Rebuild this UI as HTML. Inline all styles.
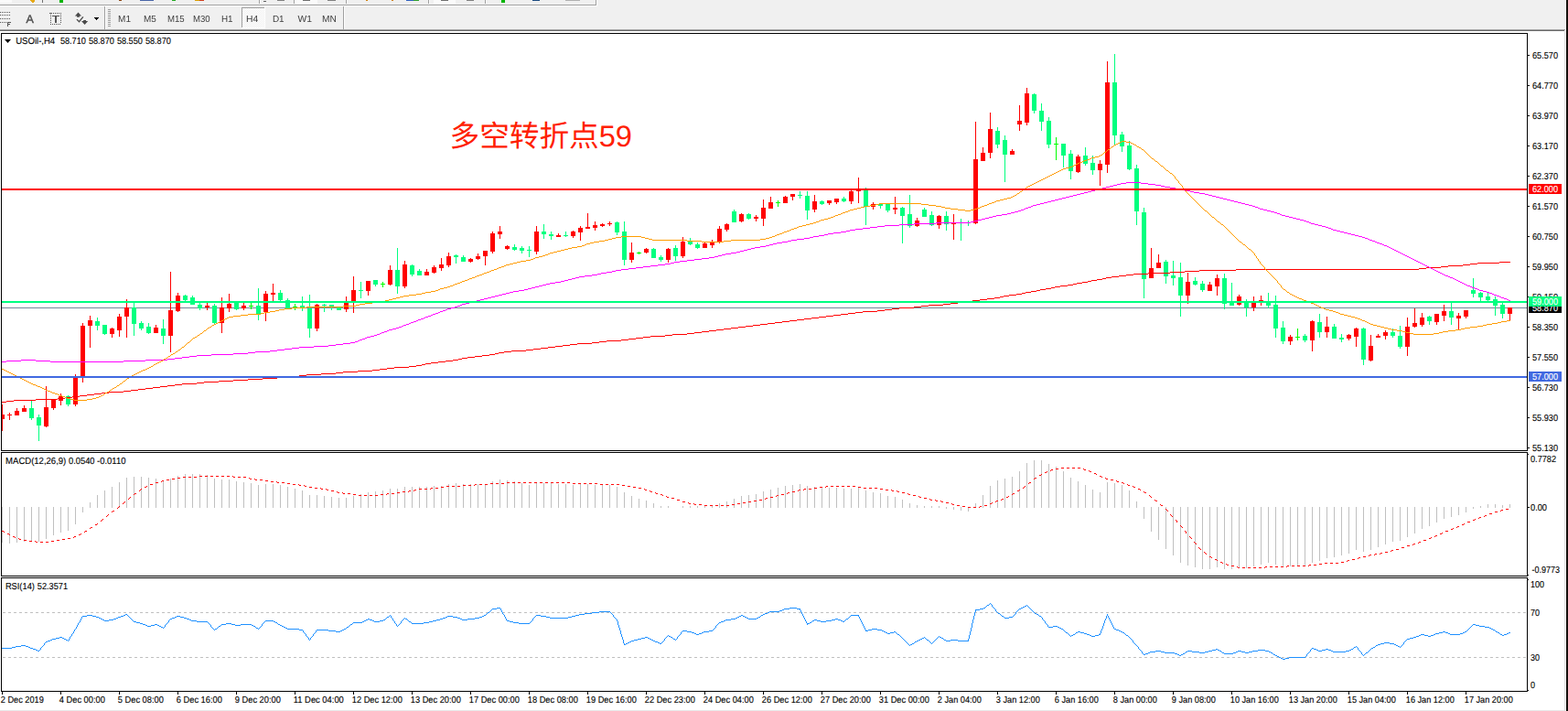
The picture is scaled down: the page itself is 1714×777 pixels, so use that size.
<!DOCTYPE html>
<html><head><meta charset="utf-8"><title>USOil H4</title>
<style>
html,body{margin:0;padding:0;background:#fff;overflow:hidden}
body{width:1714px;height:777px;position:relative}
svg{position:absolute;left:0;top:0;display:block}
text{font-family:"Liberation Sans",sans-serif;font-size:10.1px;fill:#000;text-rendering:geometricPrecision;stroke:#000;stroke-width:0.12px}
text.tb{font-size:10.1px;fill:#404040;stroke:none}
</style></head><body>
<svg width="1714" height="777" viewBox="0 0 1714 777">
<g shape-rendering="crispEdges">
<rect x="0" y="0" width="1712" height="34" fill="#f0f0f0"/>
<rect x="0" y="5" width="652" height="1" fill="#a0a0a0"/><rect x="0" y="6" width="653" height="1" fill="#fff"/>
<rect x="651" y="0" width="1" height="6" fill="#a0a0a0"/><rect x="652" y="0" width="1" height="7" fill="#fff"/>
<rect x="0" y="32" width="1711" height="1" fill="#a0a0a0"/><rect x="0" y="33" width="1710" height="1" fill="#696969"/>
<rect x="1711" y="0" width="1" height="34" fill="#fff"/>
<rect x="1710" y="34" width="1" height="743" fill="#e0e0e0"/><rect x="1711" y="34" width="1" height="743" fill="#f2f2f2"/>
<rect x="1712" y="0" width="2" height="777" fill="#15100c"/>
<rect x="0" y="776" width="1710" height="1" fill="#e8e8e8"/>
<rect x="114" y="7" width="1" height="25" fill="#a0a0a0"/><rect x="115" y="7" width="1" height="25" fill="#fff"/>
<rect x="375" y="7" width="1" height="25" fill="#a0a0a0"/><rect x="376" y="7" width="1" height="25" fill="#fff"/>
<path d="M118 10h3v1h-3zM118 12h3v1h-3zM118 14h3v1h-3zM118 16h3v1h-3zM118 18h3v1h-3zM118 20h3v1h-3zM118 22h3v1h-3zM118 24h3v1h-3zM118 26h3v1h-3zM118 28h3v1h-3z" fill="#a0a0a0"/>
<pattern id="ck" width="2" height="2" patternUnits="userSpaceOnUse"><rect width="2" height="2" fill="#f0f0f0"/><rect width="1" height="1" fill="#fff"/><rect x="1" y="1" width="1" height="1" fill="#fff"/></pattern>
<rect x="265" y="9" width="24" height="21" fill="url(#ck)"/><rect x="264" y="8" width="25" height="1" fill="#a0a0a0"/><rect x="264" y="8" width="1" height="22" fill="#a0a0a0"/><rect x="289" y="8" width="1" height="23" fill="#fff"/><rect x="264" y="30" width="26" height="1" fill="#fff"/>
</g>
<g style="filter:grayscale(1)"><text x="129.1" y="24" textLength="13.9" lengthAdjust="spacingAndGlyphs" class="tb">M1</text>
<text x="157.1" y="24" textLength="13.8" lengthAdjust="spacingAndGlyphs" class="tb">M5</text>
<text x="183.0" y="24" textLength="18.7" lengthAdjust="spacingAndGlyphs" class="tb">M15</text>
<text x="211.1" y="24" textLength="18.6" lengthAdjust="spacingAndGlyphs" class="tb">M30</text>
<text x="242.0" y="24" textLength="12.6" lengthAdjust="spacingAndGlyphs" class="tb">H1</text>
<text x="269.0" y="24" textLength="13.2" lengthAdjust="spacingAndGlyphs" class="tb">H4</text>
<text x="297.9" y="24" textLength="12.7" lengthAdjust="spacingAndGlyphs" class="tb">D1</text>
<text x="325.6" y="24" textLength="15.5" lengthAdjust="spacingAndGlyphs" class="tb">W1</text>
<text x="352.1" y="24" textLength="15.8" lengthAdjust="spacingAndGlyphs" class="tb">MN</text></g>
<g shape-rendering="crispEdges"><rect x="0" y="0" width="13" height="3" fill="#fafafa"/><path d="M33 0h5v2h-1v1h-2v-1h-1v-1h-1z" fill="#e6a817"/><rect x="46" y="0" width="1" height="3" fill="#707070"/><rect x="65" y="0" width="4" height="3" fill="#00b400"/><rect x="130" y="0" width="3" height="1" fill="#8b4513"/><rect x="153" y="0" width="15" height="1" fill="#4a66a8"/><rect x="188" y="0" width="4" height="1" fill="#22aa22"/><rect x="213" y="0" width="5" height="1" fill="#d9a000"/><rect x="218" y="0" width="5" height="1" fill="#d04020"/><rect x="283" y="0" width="1" height="4" fill="#a0a0a0"/><rect x="284" y="0" width="1" height="4" fill="#fff"/><rect x="321" y="0" width="1" height="4" fill="#a0a0a0"/><rect x="322" y="0" width="1" height="4" fill="#fff"/><rect x="378" y="0" width="1" height="4" fill="#a0a0a0"/><rect x="379" y="0" width="1" height="4" fill="#fff"/><rect x="468" y="0" width="1" height="4" fill="#a0a0a0"/><rect x="469" y="0" width="1" height="4" fill="#fff"/><rect x="530" y="0" width="1" height="4" fill="#a0a0a0"/><rect x="531" y="0" width="1" height="4" fill="#fff"/><rect x="323" y="0" width="24" height="4" fill="#fafafa"/><rect x="288" y="1" width="3" height="1" fill="#606060"/><rect x="303" y="0" width="8" height="1" fill="#808080"/><rect x="331" y="0" width="8" height="1" fill="#707070"/><rect x="358" y="0" width="9" height="1" fill="#808080"/><rect x="400" y="0" width="2" height="1" fill="#d08000"/><rect x="428" y="0" width="2" height="1" fill="#d08000"/><rect x="444" y="0" width="8" height="1" fill="#3060c0"/><rect x="452" y="0" width="6" height="1" fill="#30a030"/><rect x="474" y="0" width="24" height="4" fill="#fafafa"/><rect x="482" y="0" width="8" height="1" fill="#707070"/><rect x="510" y="0" width="8" height="1" fill="#808080"/><rect x="548" y="0" width="4" height="3" fill="#00b400"/><rect x="582" y="0" width="8" height="1" fill="#1c4a80"/><rect x="618" y="0" width="16" height="1" fill="#b0b0b0"/></g>
<g shape-rendering="crispEdges"><path d="M0 13h1v1h-1zM2 13h1v1h-1zM4 13h1v1h-1zM6 13h1v1h-1zM8 13h1v1h-1zM10 13h1v1h-1zM0 16h1v1h-1zM2 16h1v1h-1zM4 16h1v1h-1zM6 16h1v1h-1zM8 16h1v1h-1zM10 16h1v1h-1zM0 20h1v1h-1zM2 20h1v1h-1zM4 20h1v1h-1zM6 20h1v1h-1zM8 20h1v1h-1zM10 20h1v1h-1zM0 24h1v1h-1zM2 24h1v1h-1zM4 24h1v1h-1zM6 24h1v1h-1zM8 24h4v1h-3v1h2v1h-2v2h-1z" fill="#555555"/><path d="M54 14h3v1h-3zM58 14h1v1h-1zM60 14h1v1h-1zM62 14h1v1h-1zM64 14h1v1h-1zM66 14h1v1h-1zM55 16h1v1h-1zM55 18h1v1h-1zM55 20h1v1h-1zM55 22h1v1h-1zM55 24h1v1h-1zM55 26h1v1h-1zM66 16h1v1h-1zM66 18h1v1h-1zM66 20h1v1h-1zM66 22h1v1h-1zM66 24h1v1h-1zM57 26h1v1h-1zM59 26h1v1h-1zM61 26h1v1h-1zM63 26h1v1h-1zM65 26h1v1h-1zM57 17h8v1h-3v7h-2v-7h-3z" fill="#555555"/><path d="M103 19h5v1h-1v1h-1v1h-1v-1h-1v-1h-1z" fill="#000"/></g>
<text x="32.6" y="25" text-anchor="middle" style="font-size:12.5px;fill:#505050;stroke:#505050;stroke-width:0.45px;filter:grayscale(1)">A</text>
<path d="M85.5 13.6l3.6 3.9h-2.2v1.2h-2.8v-1.2h-2.2z" fill="#4a4a4a"/>
<path d="M92.6 27l3.6-3.9h-2.2v-1.2h-2.8v1.2h-2.2z" fill="#4a4a4a"/>
<path d="M83.9 21.1l2.6 2.6l4.4-5.4" fill="none" stroke="#4a4a4a" stroke-width="1.3"/>
<g shape-rendering="crispEdges">
<path d="M1.5 36.5H1669.5V492.5H1.5Z" fill="none" stroke="#000" stroke-width="1"/>
<path d="M1.5 494.5H1669.5V629.5H1.5Z" fill="none" stroke="#000" stroke-width="1"/>
<path d="M1.5 631.5H1669.5V755.5H1.5Z" fill="none" stroke="#000" stroke-width="1"/>
<rect x="2" y="336" width="1667" height="1" fill="#778899"/>
<clipPath id="cm"><rect x="2" y="37" width="1667" height="455"/></clipPath>
<g clip-path="url(#cm)">
<path fill="#ff0000" d="M2 442h1v29h-1zM0 453h5v5h-5zM10 451h1v8h-1zM8 453h5v1h-5zM18 446h1v8h-1zM16 449h5v5h-5zM26 443h1v7h-1zM24 446h5v4h-5zM50 422h1v45h-1zM48 445h5v21h-5zM58 437h1v11h-1zM56 437h5v9h-5zM66 430h1v13h-1zM64 433h5v5h-5zM82 409h1v35h-1zM80 413h5v29h-5zM90 353h1v65h-1zM88 356h5v55h-5zM98 345h1v35h-1zM96 350h5v6h-5zM122 358h1v11h-1zM120 359h5v6h-5zM130 343h1v25h-1zM128 346h5v15h-5zM138 327h1v42h-1zM136 336h5v10h-5zM170 355h1v9h-1zM168 358h5v6h-5zM186 297h1v88h-1zM184 339h5v28h-5zM194 320h1v21h-1zM192 323h5v17h-5zM226 331h1v8h-1zM224 334h5v2h-5zM242 325h1v39h-1zM240 336h5v17h-5zM250 321h1v20h-1zM248 332h5v5h-5zM266 331h1v8h-1zM264 334h5v3h-5zM290 318h1v33h-1zM288 321h5v20h-5zM298 310h1v19h-1zM296 320h5v2h-5zM346 332h1v30h-1zM344 333h5v26h-5zM378 324h1v17h-1zM376 331h5v7h-5zM386 302h1v40h-1zM384 317h5v12h-5zM402 307h1v16h-1zM400 307h5v11h-5zM426 290h1v22h-1zM424 295h5v16h-5zM442 285h1v30h-1zM440 289h5v24h-5zM466 294h1v7h-1zM464 297h5v4h-5zM474 290h1v9h-1zM472 292h5v6h-5zM482 282h1v14h-1zM480 289h5v4h-5zM490 276h1v16h-1zM488 280h5v10h-5zM514 282h1v5h-1zM512 283h5v3h-5zM522 277h1v7h-1zM520 280h5v3h-5zM530 274h1v16h-1zM528 274h5v6h-5zM538 253h1v24h-1zM536 255h5v20h-5zM546 247h1v14h-1zM544 253h5v3h-5zM554 268h1v5h-1zM552 269h5v3h-5zM586 247h1v31h-1zM584 253h5v22h-5zM610 255h1v4h-1zM608 257h5v2h-5zM626 252h1v8h-1zM624 253h5v5h-5zM634 247h1v16h-1zM632 249h5v5h-5zM642 233h1v17h-1zM640 248h5v2h-5zM650 242h1v10h-1zM648 246h5v3h-5zM658 244h1v4h-1zM656 245h5v2h-5zM666 242h1v5h-1zM664 244h5v1h-5zM690 265h1v22h-1zM688 276h5v8h-5zM706 271h1v6h-1zM704 272h5v4h-5zM730 271h1v16h-1zM728 272h5v12h-5zM746 259h1v23h-1zM744 264h5v16h-5zM770 265h1v6h-1zM768 266h5v5h-5zM778 262h1v9h-1zM776 265h5v3h-5zM786 247h1v19h-1zM784 250h5v15h-5zM794 244h1v9h-1zM792 245h5v6h-5zM810 233h1v10h-1zM808 234h5v8h-5zM826 235h1v7h-1zM824 237h5v2h-5zM834 218h1v29h-1zM832 227h5v12h-5zM842 215h1v13h-1zM840 221h5v7h-5zM858 214h1v8h-1zM856 215h5v7h-5zM866 212h1v7h-1zM864 212h5v3h-5zM890 213h1v19h-1zM888 220h5v9h-5zM906 219h1v5h-1zM904 219h5v3h-5zM914 217h1v6h-1zM912 217h5v4h-5zM930 208h1v15h-1zM928 209h5v11h-5zM938 194h1v28h-1zM936 207h5v2h-5zM954 221h1v8h-1zM952 223h5v3h-5zM978 215h1v19h-1zM976 227h5v2h-5zM1002 238h1v10h-1zM1000 241h5v6h-5zM1026 235h1v15h-1zM1024 236h5v10h-5zM1042 234h1v28h-1zM1040 243h5v2h-5zM1066 133h1v112h-1zM1064 174h5v70h-5zM1074 161h1v15h-1zM1072 167h5v9h-5zM1082 123h1v50h-1zM1080 141h5v26h-5zM1106 163h1v6h-1zM1104 165h5v4h-5zM1114 115h1v28h-1zM1112 132h5v4h-5zM1122 96h1v41h-1zM1120 102h5v32h-5zM1178 169h1v20h-1zM1176 171h5v17h-5zM1202 175h1v28h-1zM1200 179h5v7h-5zM1210 67h1v122h-1zM1208 90h5v90h-5zM1258 271h1v33h-1zM1256 293h5v11h-5zM1266 278h1v15h-1zM1264 287h5v6h-5zM1298 298h1v34h-1zM1296 308h5v15h-5zM1322 308h1v10h-1zM1320 311h5v7h-5zM1330 300h1v23h-1zM1328 304h5v9h-5zM1354 322h1v12h-1zM1352 324h5v9h-5zM1370 324h1v16h-1zM1368 331h5v5h-5zM1378 323h1v11h-1zM1376 328h5v1h-5zM1410 366h1v11h-1zM1408 368h5v5h-5zM1434 350h1v34h-1zM1432 351h5v21h-5zM1450 346h1v23h-1zM1448 357h5v6h-5zM1474 365h1v7h-1zM1472 366h5v4h-5zM1482 358h1v21h-1zM1480 359h5v9h-5zM1498 366h1v29h-1zM1496 378h5v16h-5zM1506 365h1v4h-1zM1504 367h5v2h-5zM1514 361h1v10h-1zM1512 363h5v4h-5zM1538 347h1v42h-1zM1536 357h5v22h-5zM1546 337h1v21h-1zM1544 353h5v4h-5zM1554 342h1v15h-1zM1552 347h5v8h-5zM1570 343h1v12h-1zM1568 343h5v9h-5zM1578 333h1v18h-1zM1576 340h5v5h-5zM1594 342h1v18h-1zM1592 345h5v3h-5zM1602 339h1v9h-1zM1600 339h5v7h-5zM1650 336h1v14h-1zM1648 336h5v7h-5z"/>
<path fill="#00ff7f" d="M34 438h1v21h-1zM32 446h5v11h-5zM42 453h1v29h-1zM40 456h5v9h-5zM74 432h1v12h-1zM72 433h5v9h-5zM106 347h1v14h-1zM104 351h5v5h-5zM114 355h1v11h-1zM112 355h5v10h-5zM146 331h1v36h-1zM144 336h5v18h-5zM154 351h1v10h-1zM152 353h5v6h-5zM162 353h1v12h-1zM160 357h5v7h-5zM178 349h1v27h-1zM176 359h5v8h-5zM202 322h1v9h-1zM200 323h5v5h-5zM210 323h1v10h-1zM208 325h5v8h-5zM218 331h1v8h-1zM216 333h5v4h-5zM234 332h1v22h-1zM232 334h5v19h-5zM258 330h1v9h-1zM256 330h5v8h-5zM282 315h1v35h-1zM280 334h5v9h-5zM306 317h1v12h-1zM304 320h5v8h-5zM314 326h1v12h-1zM312 328h5v9h-5zM330 324h1v16h-1zM328 334h5v3h-5zM338 322h1v47h-1zM336 337h5v22h-5zM354 332h1v9h-1zM352 333h5v1h-5zM362 333h1v6h-1zM360 333h5v3h-5zM370 336h1v3h-1zM368 336h5v3h-5zM394 308h1v18h-1zM392 317h5v1h-5zM410 306h1v7h-1zM408 306h5v5h-5zM434 271h1v50h-1zM432 295h5v18h-5zM450 289h1v13h-1zM448 290h5v10h-5zM458 294h1v7h-1zM456 296h5v5h-5zM498 278h1v10h-1zM496 279h5v2h-5zM506 279h1v7h-1zM504 281h5v5h-5zM562 267h1v7h-1zM560 270h5v3h-5zM570 269h1v8h-1zM568 271h5v3h-5zM578 269h1v12h-1zM576 273h5v1h-5zM594 245h1v16h-1zM592 253h5v3h-5zM602 253h1v9h-1zM600 256h5v2h-5zM618 253h1v6h-1zM616 257h5v1h-5zM674 242h1v15h-1zM672 243h5v11h-5zM682 242h1v48h-1zM680 253h5v31h-5zM714 271h1v11h-1zM712 272h5v10h-5zM722 279h1v7h-1zM720 281h5v3h-5zM738 268h1v17h-1zM736 271h5v9h-5zM754 260h1v8h-1zM752 263h5v4h-5zM762 265h1v7h-1zM760 267h5v4h-5zM802 229h1v14h-1zM800 231h5v12h-5zM818 233h1v7h-1zM816 234h5v5h-5zM874 209h1v8h-1zM872 213h5v1h-5zM882 209h1v31h-1zM880 214h5v16h-5zM898 219h1v5h-1zM896 220h5v3h-5zM922 215h1v6h-1zM920 217h5v3h-5zM946 205h1v41h-1zM944 208h5v18h-5zM962 222h1v6h-1zM960 223h5v2h-5zM970 223h1v9h-1zM968 223h5v7h-5zM986 226h1v40h-1zM984 227h5v9h-5zM994 213h1v36h-1zM992 234h5v13h-5zM1010 227h1v10h-1zM1008 229h5v8h-5zM1018 231h1v16h-1zM1016 235h5v11h-5zM1034 231h1v21h-1zM1032 236h5v9h-5zM1050 239h1v24h-1zM1048 243h5v1h-5zM1058 241h1v6h-1zM1056 243h5v1h-5zM1090 139h1v23h-1zM1088 143h5v15h-5zM1098 148h1v51h-1zM1096 153h5v16h-5zM1130 102h1v22h-1zM1128 103h5v18h-5zM1138 113h1v30h-1zM1136 121h5v12h-5zM1146 128h1v34h-1zM1144 132h5v26h-5zM1162 157h1v26h-1zM1160 157h5v13h-5zM1170 164h1v32h-1zM1168 168h5v19h-5zM1186 161h1v20h-1zM1184 170h5v9h-5zM1194 170h1v21h-1zM1192 178h5v8h-5zM1218 59h1v99h-1zM1216 90h5v58h-5zM1226 144h1v22h-1zM1224 147h5v13h-5zM1234 154h1v32h-1zM1232 159h5v26h-5zM1242 180h1v66h-1zM1240 184h5v47h-5zM1250 227h1v99h-1zM1248 232h5v73h-5zM1274 284h1v26h-1zM1272 286h5v16h-5zM1282 285h1v27h-1zM1280 301h5v3h-5zM1290 287h1v59h-1zM1288 303h5v20h-5zM1306 303h1v9h-1zM1304 307h5v4h-5zM1314 307h1v12h-1zM1312 310h5v7h-5zM1338 299h1v39h-1zM1336 304h5v28h-5zM1346 309h1v25h-1zM1344 330h5v4h-5zM1362 327h1v19h-1zM1360 330h5v6h-5zM1386 320h1v17h-1zM1384 330h5v4h-5zM1394 323h1v46h-1zM1392 333h5v26h-5zM1402 351h1v25h-1zM1400 358h5v15h-5zM1426 365h1v9h-1zM1424 367h5v5h-5zM1442 343h1v26h-1zM1440 352h5v11h-5zM1458 354h1v16h-1zM1456 357h5v13h-5zM1466 365h1v9h-1zM1464 369h5v2h-5zM1490 358h1v41h-1zM1488 359h5v34h-5zM1522 359h1v10h-1zM1520 363h5v4h-5zM1530 356h1v25h-1zM1528 367h5v12h-5zM1562 345h1v10h-1zM1560 346h5v5h-5zM1586 331h1v24h-1zM1584 340h5v7h-5zM1610 304h1v21h-1zM1608 317h5v4h-5zM1618 319h1v10h-1zM1616 320h5v5h-5zM1626 320h1v9h-1zM1624 324h5v4h-5zM1634 324h1v21h-1zM1632 327h5v7h-5zM1642 331h1v17h-1zM1640 333h5v10h-5z"/>
<path fill="#00ff00" d="M274 331h1v7h-1zM272 334h5v1h-5zM322 332h1v7h-1zM320 335h5v1h-5zM418 308h1v6h-1zM416 310h5v1h-5zM698 275h1v3h-1zM696 276h5v1h-5zM850 219h1v7h-1zM848 221h5v1h-5zM1154 150h1v25h-1zM1152 157h5v1h-5zM1418 359h1v13h-1zM1416 368h5v1h-5z"/>
<path fill="#ff0000" d="M1639 286h12v1h-12zM1615 287h24v1h-24zM1607 288h8v1h-8zM1599 289h8v1h-8zM1583 290h16v1h-16zM1575 291h8v1h-8zM1559 292h16v1h-16zM1551 293h8v1h-8zM1351 294h200v1h-200zM1311 295h40v1h-40zM1295 296h16v1h-16zM1279 297h16v1h-16zM1255 298h24v1h-24zM1239 299h16v1h-16zM1231 300h8v1h-8zM1223 301h8v1h-8zM1215 302h8v1h-8zM1209 303h6v1h-6zM1205 304h4v1h-4zM1199 305h6v1h-6zM1193 306h6v1h-6zM1189 307h4v1h-4zM1183 308h6v1h-6zM1177 309h6v1h-6zM1173 310h4v1h-4zM1167 311h6v1h-6zM1159 312h8v1h-8zM1153 313h6v1h-6zM1149 314h4v1h-4zM1143 315h6v1h-6zM1137 316h6v1h-6zM1133 317h4v1h-4zM1127 318h6v1h-6zM1121 319h6v1h-6zM1117 320h4v1h-4zM1111 321h6v1h-6zM1103 322h8v1h-8zM1097 323h6v1h-6zM1093 324h4v1h-4zM1087 325h6v1h-6zM1079 326h8v1h-8zM1071 327h8v1h-8zM1063 328h8v1h-8zM1055 329h8v1h-8zM1047 330h8v1h-8zM1039 331h8v1h-8zM1031 332h8v1h-8zM1015 333h16v1h-16zM1007 334h8v1h-8zM999 335h8v1h-8zM983 336h16v1h-16zM975 337h8v1h-8zM967 338h8v1h-8zM959 339h8v1h-8zM943 340h16v1h-16zM935 341h8v1h-8zM927 342h8v1h-8zM919 343h8v1h-8zM911 344h8v1h-8zM903 345h8v1h-8zM895 346h8v1h-8zM887 347h8v1h-8zM879 348h8v1h-8zM871 349h8v1h-8zM863 350h8v1h-8zM855 351h8v1h-8zM847 352h8v1h-8zM839 353h8v1h-8zM831 354h8v1h-8zM823 355h8v1h-8zM815 356h8v1h-8zM807 357h8v1h-8zM799 358h8v1h-8zM791 359h8v1h-8zM783 360h8v1h-8zM775 361h8v1h-8zM767 362h8v1h-8zM759 363h8v1h-8zM751 364h8v1h-8zM735 365h16v1h-16zM727 366h8v1h-8zM711 367h16v1h-16zM703 368h8v1h-8zM695 369h8v1h-8zM687 370h8v1h-8zM679 371h8v1h-8zM663 372h16v1h-16zM655 373h8v1h-8zM647 374h8v1h-8zM631 375h16v1h-16zM623 376h8v1h-8zM615 377h8v1h-8zM607 378h8v1h-8zM599 379h8v1h-8zM591 380h8v1h-8zM583 381h8v1h-8zM575 382h8v1h-8zM559 383h16v1h-16zM551 384h8v1h-8zM545 385h6v1h-6zM541 386h4v1h-4zM535 387h6v1h-6zM527 388h8v1h-8zM519 389h8v1h-8zM511 390h8v1h-8zM505 391h6v1h-6zM501 392h4v1h-4zM495 393h6v1h-6zM487 394h8v1h-8zM479 395h8v1h-8zM471 396h8v1h-8zM465 397h6v1h-6zM461 398h4v1h-4zM455 399h6v1h-6zM447 400h8v1h-8zM431 401h16v1h-16zM423 402h8v1h-8zM415 403h8v1h-8zM407 404h8v1h-8zM391 405h16v1h-16zM375 406h16v1h-16zM367 407h8v1h-8zM351 408h16v1h-16zM335 409h16v1h-16zM327 410h8v1h-8zM311 411h16v1h-16zM303 412h8v1h-8zM287 413h16v1h-16zM271 414h16v1h-16zM255 415h16v1h-16zM239 416h16v1h-16zM223 417h16v1h-16zM215 418h8v1h-8zM199 419h16v1h-16zM191 420h8v1h-8zM183 421h8v1h-8zM175 422h8v1h-8zM167 423h8v1h-8zM159 424h8v1h-8zM151 425h8v1h-8zM143 426h8v1h-8zM135 427h8v1h-8zM119 428h16v1h-16zM111 429h8v1h-8zM103 430h8v1h-8zM95 431h8v1h-8zM87 432h8v1h-8zM79 433h8v1h-8zM71 434h8v1h-8zM63 435h8v1h-8zM39 436h24v1h-24zM15 437h24v1h-24zM7 438h8v1h-8zM2 439h5v1h-5z"/>
<path fill="#ff00ff" d="M1231 199h16v1h-16zM1225 200h6v1h-6zM1247 200h8v1h-8zM1221 201h4v1h-4zM1255 201h8v1h-8zM1217 202h4v1h-4zM1263 202h6v1h-6zM1213 203h4v1h-4zM1269 203h4v1h-4zM1209 204h4v1h-4zM1273 204h6v1h-6zM1205 205h4v1h-4zM1279 205h6v1h-6zM1201 206h4v1h-4zM1285 206h4v1h-4zM1197 207h4v1h-4zM1289 207h6v1h-6zM1193 208h4v1h-4zM1295 208h6v1h-6zM1189 209h4v1h-4zM1301 209h4v1h-4zM1185 210h4v1h-4zM1305 210h6v1h-6zM1181 211h4v1h-4zM1311 211h6v1h-6zM1177 212h4v1h-4zM1317 212h4v1h-4zM1173 213h4v1h-4zM1321 213h4v1h-4zM1169 214h4v1h-4zM1325 214h4v1h-4zM1165 215h4v1h-4zM1329 215h4v1h-4zM1161 216h4v1h-4zM1333 216h4v1h-4zM1157 217h4v1h-4zM1337 217h4v1h-4zM1153 218h4v1h-4zM1341 218h4v1h-4zM1149 219h4v1h-4zM1345 219h4v1h-4zM1145 220h4v1h-4zM1349 220h4v1h-4zM1141 221h4v1h-4zM1353 221h4v1h-4zM1137 222h4v1h-4zM1357 222h4v1h-4zM1133 223h4v1h-4zM1361 223h4v1h-4zM1129 224h4v1h-4zM1365 224h4v1h-4zM1127 225h2v1h-2zM1369 225h3v1h-3zM1124 226h3v1h-3zM1372 226h3v1h-3zM1121 227h3v1h-3zM1375 227h2v1h-2zM1119 228h2v1h-2zM1377 228h4v1h-4zM1116 229h3v1h-3zM1381 229h4v1h-4zM1113 230h3v1h-3zM1385 230h4v1h-4zM1109 231h4v1h-4zM1389 231h4v1h-4zM1105 232h4v1h-4zM1393 232h3v1h-3zM1101 233h4v1h-4zM1396 233h3v1h-3zM1095 234h6v1h-6zM1399 234h2v1h-2zM1089 235h6v1h-6zM1401 235h4v1h-4zM1085 236h4v1h-4zM1405 236h4v1h-4zM1081 237h4v1h-4zM1409 237h4v1h-4zM1077 238h4v1h-4zM1413 238h4v1h-4zM1073 239h4v1h-4zM1417 239h4v1h-4zM1069 240h4v1h-4zM1421 240h4v1h-4zM1065 241h4v1h-4zM1425 241h3v1h-3zM1061 242h4v1h-4zM1428 242h3v1h-3zM1023 243h38v1h-38zM1431 243h2v1h-2zM999 244h24v1h-24zM1433 244h4v1h-4zM983 245h16v1h-16zM1437 245h4v1h-4zM967 246h16v1h-16zM1441 246h4v1h-4zM959 247h8v1h-8zM1445 247h4v1h-4zM951 248h8v1h-8zM1449 248h3v1h-3zM943 249h8v1h-8zM1452 249h3v1h-3zM935 250h8v1h-8zM1455 250h2v1h-2zM929 251h6v1h-6zM1457 251h4v1h-4zM925 252h4v1h-4zM1461 252h4v1h-4zM919 253h6v1h-6zM1465 253h4v1h-4zM911 254h8v1h-8zM1469 254h4v1h-4zM905 255h6v1h-6zM1473 255h4v1h-4zM901 256h4v1h-4zM1477 256h4v1h-4zM895 257h6v1h-6zM1481 257h4v1h-4zM889 258h6v1h-6zM1485 258h4v1h-4zM885 259h4v1h-4zM1489 259h3v1h-3zM879 260h6v1h-6zM1492 260h3v1h-3zM871 261h8v1h-8zM1495 261h2v1h-2zM865 262h6v1h-6zM1497 262h3v1h-3zM861 263h4v1h-4zM1500 263h3v1h-3zM855 264h6v1h-6zM1503 264h2v1h-2zM849 265h6v1h-6zM1505 265h3v1h-3zM845 266h4v1h-4zM1508 266h3v1h-3zM841 267h4v1h-4zM1511 267h2v1h-2zM837 268h4v1h-4zM1513 268h3v1h-3zM831 269h6v1h-6zM1516 269h2v1h-2zM825 270h6v1h-6zM1518 270h2v1h-2zM821 271h4v1h-4zM1520 271h2v1h-2zM817 272h4v1h-4zM1522 272h2v1h-2zM813 273h4v1h-4zM1524 273h2v1h-2zM809 274h4v1h-4zM1526 274h2v1h-2zM805 275h4v1h-4zM1528 275h2v1h-2zM799 276h6v1h-6zM1530 276h2v1h-2zM793 277h6v1h-6zM1532 277h2v1h-2zM789 278h4v1h-4zM1534 278h2v1h-2zM785 279h4v1h-4zM1536 279h2v1h-2zM781 280h4v1h-4zM1538 280h2v1h-2zM775 281h6v1h-6zM1540 281h2v1h-2zM767 282h8v1h-8zM1542 282h2v1h-2zM759 283h8v1h-8zM1544 283h2v1h-2zM751 284h8v1h-8zM1546 284h2v1h-2zM743 285h8v1h-8zM1548 285h2v1h-2zM737 286h6v1h-6zM1550 286h2v1h-2zM733 287h4v1h-4zM1552 287h2v1h-2zM727 288h6v1h-6zM1554 288h2v1h-2zM719 289h8v1h-8zM1556 289h2v1h-2zM711 290h8v1h-8zM1558 290h2v1h-2zM703 291h8v1h-8zM1560 291h2v1h-2zM695 292h8v1h-8zM1562 292h2v1h-2zM687 293h8v1h-8zM1564 293h2v1h-2zM679 294h8v1h-8zM1566 294h2v1h-2zM673 295h6v1h-6zM1568 295h2v1h-2zM669 296h4v1h-4zM1570 296h2v1h-2zM663 297h6v1h-6zM1572 297h2v1h-2zM657 298h6v1h-6zM1574 298h2v1h-2zM653 299h4v1h-4zM1576 299h2v1h-2zM647 300h6v1h-6zM1578 300h2v1h-2zM639 301h8v1h-8zM1580 301h3v1h-3zM633 302h6v1h-6zM1583 302h2v1h-2zM629 303h4v1h-4zM1585 303h3v1h-3zM625 304h4v1h-4zM1588 304h2v1h-2zM621 305h4v1h-4zM1590 305h2v1h-2zM617 306h4v1h-4zM1592 306h2v1h-2zM613 307h4v1h-4zM1594 307h2v1h-2zM607 308h6v1h-6zM1596 308h2v1h-2zM601 309h6v1h-6zM1598 309h2v1h-2zM597 310h4v1h-4zM1600 310h2v1h-2zM593 311h4v1h-4zM1602 311h2v1h-2zM589 312h4v1h-4zM1604 312h3v1h-3zM585 313h4v1h-4zM1607 313h2v1h-2zM581 314h4v1h-4zM1609 314h3v1h-3zM577 315h4v1h-4zM1612 315h3v1h-3zM573 316h4v1h-4zM1615 316h2v1h-2zM567 317h6v1h-6zM1617 317h4v1h-4zM561 318h6v1h-6zM1621 318h4v1h-4zM557 319h4v1h-4zM1625 319h3v1h-3zM553 320h4v1h-4zM1628 320h3v1h-3zM549 321h4v1h-4zM1631 321h2v1h-2zM545 322h4v1h-4zM1633 322h3v1h-3zM541 323h4v1h-4zM1636 323h3v1h-3zM537 324h4v1h-4zM1639 324h2v1h-2zM533 325h4v1h-4zM1641 325h3v1h-3zM529 326h4v1h-4zM1644 326h3v1h-3zM525 327h4v1h-4zM1647 327h2v1h-2zM521 328h4v1h-4zM1649 328h2v1h-2zM517 329h4v1h-4zM513 330h4v1h-4zM509 331h4v1h-4zM505 332h4v1h-4zM503 333h2v1h-2zM500 334h3v1h-3zM497 335h3v1h-3zM493 336h4v1h-4zM489 337h4v1h-4zM487 338h2v1h-2zM484 339h3v1h-3zM481 340h3v1h-3zM479 341h2v1h-2zM476 342h3v1h-3zM473 343h3v1h-3zM471 344h2v1h-2zM468 345h3v1h-3zM465 346h3v1h-3zM463 347h2v1h-2zM460 348h3v1h-3zM457 349h3v1h-3zM455 350h2v1h-2zM452 351h3v1h-3zM449 352h3v1h-3zM447 353h2v1h-2zM444 354h3v1h-3zM441 355h3v1h-3zM439 356h2v1h-2zM436 357h3v1h-3zM433 358h3v1h-3zM429 359h4v1h-4zM425 360h4v1h-4zM423 361h2v1h-2zM420 362h3v1h-3zM417 363h3v1h-3zM415 364h2v1h-2zM412 365h3v1h-3zM409 366h3v1h-3zM405 367h4v1h-4zM401 368h4v1h-4zM399 369h2v1h-2zM396 370h3v1h-3zM393 371h3v1h-3zM391 372h2v1h-2zM388 373h3v1h-3zM383 374h5v1h-5zM375 375h8v1h-8zM367 376h8v1h-8zM359 377h8v1h-8zM343 378h16v1h-16zM327 379h16v1h-16zM319 380h8v1h-8zM311 381h8v1h-8zM303 382h8v1h-8zM295 383h8v1h-8zM279 384h16v1h-16zM271 385h8v1h-8zM255 386h16v1h-16zM231 387h24v1h-24zM215 388h16v1h-16zM207 389h8v1h-8zM199 390h8v1h-8zM191 391h8v1h-8zM183 392h8v1h-8zM23 393h16v1h-16zM159 393h24v1h-24zM7 394h16v1h-16zM39 394h16v1h-16zM135 394h24v1h-24zM2 395h5v1h-5zM55 395h80v1h-80z"/>
<path fill="#ff9d00" d="M1226 154h5v1h-5zM1224 155h2v1h-2zM1231 155h5v1h-5zM1222 156h2v1h-2zM1236 156h2v1h-2zM1220 157h2v1h-2zM1238 157h2v1h-2zM1218 158h2v1h-2zM1240 158h2v1h-2zM1217 159h1v1h-1zM1242 159h1v1h-1zM1215 160h2v1h-2zM1243 160h2v1h-2zM1214 161h1v1h-1zM1245 161h2v1h-2zM1213 162h1v1h-1zM1247 162h1v1h-1zM1211 163h2v1h-2zM1248 163h2v1h-2zM1210 164h1v1h-1zM1250 164h1v1h-1zM1209 165h1v1h-1zM1251 165h1v1h-1zM1207 166h2v1h-2zM1252 166h1v1h-1zM1206 167h1v1h-1zM1253 167h1v1h-1zM1205 168h1v1h-1zM1254 168h1v1h-1zM1203 169h2v1h-2zM1255 169h1v1h-1zM1201 170h2v1h-2zM1256 170h1v1h-1zM1197 171h4v1h-4zM1257 171h1v1h-1zM1193 172h4v1h-4zM1258 172h1v1h-1zM1191 173h2v1h-2zM1259 173h2v1h-2zM1188 174h3v1h-3zM1261 174h1v1h-1zM1185 175h3v1h-3zM1262 175h1v1h-1zM1183 176h2v1h-2zM1263 176h2v1h-2zM1180 177h3v1h-3zM1265 177h1v1h-1zM1178 178h2v1h-2zM1266 178h1v1h-1zM1176 179h2v1h-2zM1267 179h1v1h-1zM1174 180h2v1h-2zM1268 180h1v1h-1zM1172 181h2v1h-2zM1269 181h2v1h-2zM1169 182h3v1h-3zM1271 182h1v1h-1zM1165 183h4v1h-4zM1272 183h1v1h-1zM1162 184h3v1h-3zM1273 184h1v1h-1zM1160 185h2v1h-2zM1274 185h1v1h-1zM1158 186h2v1h-2zM1275 186h2v1h-2zM1156 187h2v1h-2zM1277 187h1v1h-1zM1154 188h2v1h-2zM1278 188h1v1h-1zM1152 189h2v1h-2zM1279 189h2v1h-2zM1150 190h2v1h-2zM1281 190h1v1h-1zM1148 191h2v1h-2zM1282 191h1v1h-1zM1146 192h2v1h-2zM1283 192h1v1h-1zM1144 193h2v1h-2zM1284 193h1v2h-1zM1142 194h2v1h-2zM1140 195h2v1h-2zM1285 195h1v1h-1zM1138 196h2v1h-2zM1286 196h1v1h-1zM1136 197h2v1h-2zM1287 197h1v1h-1zM1134 198h2v1h-2zM1288 198h1v2h-1zM1132 199h2v1h-2zM1130 200h2v1h-2zM1289 200h1v1h-1zM1128 201h2v1h-2zM1290 201h1v1h-1zM1126 202h2v1h-2zM1291 202h1v1h-1zM1124 203h2v1h-2zM1292 203h1v2h-1zM1122 204h2v1h-2zM1121 205h1v1h-1zM1293 205h1v1h-1zM1119 206h2v1h-2zM1294 206h1v1h-1zM1118 207h1v1h-1zM1295 207h1v1h-1zM1117 208h1v1h-1zM1296 208h1v2h-1zM1115 209h2v1h-2zM1114 210h1v1h-1zM1297 210h1v1h-1zM1112 211h2v1h-2zM1298 211h1v1h-1zM1111 212h1v1h-1zM1299 212h1v1h-1zM1109 213h2v1h-2zM1300 213h1v1h-1zM1107 214h2v1h-2zM1301 214h1v1h-1zM1105 215h2v1h-2zM1302 215h1v1h-1zM1101 216h4v1h-4zM1303 216h1v1h-1zM1097 217h4v1h-4zM1304 217h1v1h-1zM1093 218h4v1h-4zM1305 218h1v1h-1zM1089 219h4v1h-4zM1306 219h1v1h-1zM1087 220h2v1h-2zM1307 220h1v1h-1zM1084 221h3v1h-3zM1308 221h1v1h-1zM961 222h46v1h-46zM1081 222h3v1h-3zM1309 222h1v1h-1zM957 223h4v1h-4zM1007 223h8v1h-8zM1079 223h2v1h-2zM1310 223h1v1h-1zM951 224h6v1h-6zM1015 224h8v1h-8zM1076 224h3v1h-3zM1311 224h1v1h-1zM945 225h6v1h-6zM1023 225h6v1h-6zM1073 225h3v1h-3zM1312 225h1v1h-1zM941 226h4v1h-4zM1029 226h4v1h-4zM1071 226h2v1h-2zM1313 226h1v1h-1zM937 227h4v1h-4zM1033 227h6v1h-6zM1068 227h3v1h-3zM1314 227h1v1h-1zM933 228h4v1h-4zM1039 228h8v1h-8zM1065 228h3v1h-3zM1315 228h1v1h-1zM929 229h4v1h-4zM1047 229h8v1h-8zM1061 229h4v1h-4zM1316 229h1v1h-1zM927 230h2v1h-2zM1055 230h6v1h-6zM1317 230h2v1h-2zM924 231h3v1h-3zM1319 231h1v1h-1zM921 232h3v1h-3zM1320 232h1v1h-1zM919 233h2v1h-2zM1321 233h1v1h-1zM916 234h3v1h-3zM1322 234h1v1h-1zM913 235h3v1h-3zM1323 235h1v1h-1zM911 236h2v1h-2zM1324 236h1v1h-1zM908 237h3v1h-3zM1325 237h2v1h-2zM905 238h3v1h-3zM1327 238h1v1h-1zM901 239h4v1h-4zM1328 239h1v1h-1zM897 240h4v1h-4zM1329 240h1v1h-1zM895 241h2v1h-2zM1330 241h1v1h-1zM892 242h3v1h-3zM1331 242h2v1h-2zM889 243h3v1h-3zM1333 243h1v1h-1zM885 244h4v1h-4zM1334 244h1v1h-1zM881 245h4v1h-4zM1335 245h2v1h-2zM877 246h4v1h-4zM1337 246h1v1h-1zM873 247h4v1h-4zM1338 247h1v1h-1zM871 248h2v1h-2zM1339 248h1v1h-1zM868 249h3v1h-3zM1340 249h1v1h-1zM865 250h3v1h-3zM1341 250h1v1h-1zM863 251h2v1h-2zM1342 251h1v1h-1zM860 252h3v1h-3zM1343 252h1v1h-1zM857 253h3v1h-3zM1344 253h1v1h-1zM855 254h2v1h-2zM1345 254h1v1h-1zM852 255h3v1h-3zM1346 255h1v1h-1zM849 256h3v1h-3zM1347 256h1v1h-1zM847 257h2v1h-2zM1348 257h1v1h-1zM679 258h22v1h-22zM844 258h3v1h-3zM1349 258h1v1h-1zM673 259h6v1h-6zM701 259h4v1h-4zM841 259h3v1h-3zM1350 259h1v1h-1zM669 260h4v1h-4zM705 260h4v1h-4zM837 260h4v1h-4zM1351 260h1v1h-1zM665 261h4v1h-4zM709 261h4v1h-4zM831 261h6v1h-6zM1352 261h1v1h-1zM661 262h4v1h-4zM713 262h38v1h-38zM799 262h32v1h-32zM1353 262h1v1h-1zM655 263h6v1h-6zM751 263h16v1h-16zM791 263h8v1h-8zM1354 263h1v1h-1zM649 264h6v1h-6zM767 264h24v1h-24zM1355 264h2v1h-2zM645 265h4v1h-4zM1357 265h1v1h-1zM641 266h4v1h-4zM1358 266h1v1h-1zM639 267h2v1h-2zM1359 267h2v1h-2zM636 268h3v1h-3zM1361 268h1v1h-1zM631 269h5v1h-5zM1362 269h1v1h-1zM625 270h6v1h-6zM1363 270h1v1h-1zM621 271h4v1h-4zM1364 271h1v1h-1zM617 272h4v1h-4zM1365 272h2v1h-2zM613 273h4v1h-4zM1367 273h1v1h-1zM609 274h4v1h-4zM1368 274h1v1h-1zM605 275h4v1h-4zM1369 275h1v1h-1zM601 276h4v1h-4zM1370 276h1v1h-1zM599 277h2v1h-2zM1371 277h1v2h-1zM596 278h3v1h-3zM593 279h3v1h-3zM1372 279h1v1h-1zM589 280h4v1h-4zM1373 280h1v2h-1zM585 281h4v1h-4zM583 282h2v1h-2zM1374 282h1v1h-1zM580 283h3v1h-3zM1375 283h1v2h-1zM575 284h5v1h-5zM569 285h6v1h-6zM1376 285h1v1h-1zM565 286h4v1h-4zM1377 286h1v2h-1zM561 287h4v1h-4zM557 288h4v1h-4zM1378 288h1v1h-1zM553 289h4v1h-4zM1379 289h1v1h-1zM551 290h2v1h-2zM1380 290h1v1h-1zM548 291h3v1h-3zM1381 291h1v1h-1zM545 292h3v1h-3zM1382 292h1v2h-1zM543 293h2v1h-2zM540 294h3v1h-3zM1383 294h1v1h-1zM537 295h3v1h-3zM1384 295h1v1h-1zM535 296h2v1h-2zM1385 296h1v1h-1zM532 297h3v1h-3zM1386 297h1v1h-1zM529 298h3v1h-3zM1387 298h1v1h-1zM527 299h2v1h-2zM1388 299h1v1h-1zM524 300h3v1h-3zM1389 300h1v1h-1zM521 301h3v1h-3zM1390 301h1v1h-1zM519 302h2v1h-2zM1391 302h1v1h-1zM516 303h3v1h-3zM1392 303h1v1h-1zM513 304h3v1h-3zM1393 304h1v1h-1zM511 305h2v1h-2zM1394 305h1v1h-1zM508 306h3v1h-3zM1395 306h1v1h-1zM505 307h3v1h-3zM1396 307h1v2h-1zM503 308h2v1h-2zM500 309h3v1h-3zM1397 309h1v1h-1zM497 310h3v1h-3zM1398 310h1v1h-1zM495 311h2v1h-2zM1399 311h1v1h-1zM492 312h3v1h-3zM1400 312h1v2h-1zM489 313h3v1h-3zM485 314h4v1h-4zM1401 314h1v1h-1zM481 315h4v1h-4zM1402 315h1v1h-1zM479 316h2v1h-2zM1403 316h2v1h-2zM476 317h3v1h-3zM1405 317h1v1h-1zM471 318h5v1h-5zM1406 318h1v1h-1zM465 319h6v1h-6zM1407 319h2v1h-2zM461 320h4v1h-4zM1409 320h1v1h-1zM455 321h6v1h-6zM1410 321h2v1h-2zM447 322h8v1h-8zM1412 322h2v1h-2zM441 323h6v1h-6zM1414 323h2v1h-2zM437 324h4v1h-4zM1416 324h2v1h-2zM433 325h4v1h-4zM1418 325h2v1h-2zM429 326h4v1h-4zM1420 326h3v1h-3zM425 327h4v1h-4zM1423 327h2v1h-2zM421 328h4v1h-4zM1425 328h3v1h-3zM415 329h6v1h-6zM1428 329h3v1h-3zM407 330h8v1h-8zM1431 330h2v1h-2zM399 331h8v1h-8zM1433 331h3v1h-3zM393 332h6v1h-6zM1436 332h2v1h-2zM389 333h4v1h-4zM1438 333h2v1h-2zM375 334h14v1h-14zM1440 334h2v1h-2zM335 335h40v1h-40zM1442 335h2v1h-2zM319 336h16v1h-16zM1444 336h3v1h-3zM311 337h8v1h-8zM1447 337h2v1h-2zM305 338h6v1h-6zM1449 338h4v1h-4zM301 339h4v1h-4zM1453 339h4v1h-4zM295 340h6v1h-6zM1457 340h3v1h-3zM289 341h6v1h-6zM1460 341h3v1h-3zM285 342h4v1h-4zM1463 342h2v1h-2zM271 343h14v1h-14zM1465 343h4v1h-4zM263 344h8v1h-8zM1469 344h4v1h-4zM255 345h8v1h-8zM1473 345h4v1h-4zM250 346h5v1h-5zM1477 346h4v1h-4zM248 347h2v1h-2zM1481 347h3v1h-3zM246 348h2v1h-2zM1484 348h3v1h-3zM244 349h2v1h-2zM1487 349h2v1h-2zM242 350h2v1h-2zM1489 350h3v1h-3zM1647 350h4v1h-4zM240 351h2v1h-2zM1492 351h2v1h-2zM1641 351h6v1h-6zM238 352h2v1h-2zM1494 352h2v1h-2zM1637 352h4v1h-4zM236 353h2v1h-2zM1496 353h2v1h-2zM1631 353h6v1h-6zM234 354h2v1h-2zM1498 354h3v1h-3zM1625 354h6v1h-6zM232 355h2v1h-2zM1501 355h4v1h-4zM1621 355h4v1h-4zM231 356h1v1h-1zM1505 356h4v1h-4zM1615 356h6v1h-6zM229 357h2v1h-2zM1509 357h4v1h-4zM1607 357h8v1h-8zM227 358h2v1h-2zM1513 358h4v1h-4zM1601 358h6v1h-6zM226 359h1v1h-1zM1517 359h4v1h-4zM1597 359h4v1h-4zM225 360h1v1h-1zM1521 360h6v1h-6zM1591 360h6v1h-6zM223 361h2v1h-2zM1527 361h6v1h-6zM1583 361h8v1h-8zM222 362h1v1h-1zM1533 362h4v1h-4zM1577 362h6v1h-6zM221 363h1v1h-1zM1537 363h4v1h-4zM1573 363h4v1h-4zM219 364h2v1h-2zM1541 364h4v1h-4zM1567 364h6v1h-6zM218 365h1v1h-1zM1545 365h22v1h-22zM216 366h2v1h-2zM215 367h1v1h-1zM213 368h2v1h-2zM211 369h2v1h-2zM210 370h1v1h-1zM209 371h1v1h-1zM208 372h1v1h-1zM207 373h1v1h-1zM205 374h2v1h-2zM204 375h1v1h-1zM203 376h1v1h-1zM202 377h1v1h-1zM201 378h1v1h-1zM199 379h2v1h-2zM198 380h1v1h-1zM197 381h1v1h-1zM195 382h2v1h-2zM194 383h1v1h-1zM192 384h2v1h-2zM191 385h1v1h-1zM189 386h2v1h-2zM187 387h2v1h-2zM186 388h1v1h-1zM184 389h2v1h-2zM183 390h1v1h-1zM181 391h2v1h-2zM179 392h2v1h-2zM178 393h1v1h-1zM176 394h2v1h-2zM174 395h2v1h-2zM172 396h2v1h-2zM170 397h2v1h-2zM168 398h2v1h-2zM167 399h1v1h-1zM165 400h2v1h-2zM163 401h2v1h-2zM161 402h2v1h-2zM2 403h2v1h-2zM159 403h2v1h-2zM4 404h2v1h-2zM156 404h3v1h-3zM6 405h2v1h-2zM154 405h2v1h-2zM8 406h2v1h-2zM152 406h2v1h-2zM10 407h2v1h-2zM150 407h2v1h-2zM12 408h2v1h-2zM148 408h2v1h-2zM14 409h2v1h-2zM146 409h2v1h-2zM16 410h2v1h-2zM144 410h2v1h-2zM18 411h2v1h-2zM143 411h1v1h-1zM20 412h2v1h-2zM141 412h2v1h-2zM22 413h2v1h-2zM139 413h2v1h-2zM24 414h2v1h-2zM138 414h1v1h-1zM26 415h2v1h-2zM137 415h1v1h-1zM28 416h2v1h-2zM135 416h2v1h-2zM30 417h2v1h-2zM134 417h1v1h-1zM32 418h2v1h-2zM133 418h1v1h-1zM34 419h2v1h-2zM131 419h2v1h-2zM36 420h3v1h-3zM130 420h1v1h-1zM39 421h2v1h-2zM128 421h2v1h-2zM41 422h3v1h-3zM127 422h1v1h-1zM44 423h2v1h-2zM125 423h2v1h-2zM46 424h2v1h-2zM123 424h2v1h-2zM48 425h2v1h-2zM122 425h1v1h-1zM50 426h2v1h-2zM120 426h2v1h-2zM52 427h3v1h-3zM119 427h1v1h-1zM55 428h2v1h-2zM117 428h2v1h-2zM57 429h3v1h-3zM115 429h2v1h-2zM60 430h3v1h-3zM114 430h1v1h-1zM63 431h2v1h-2zM112 431h2v1h-2zM65 432h3v1h-3zM110 432h2v1h-2zM68 433h3v1h-3zM108 433h2v1h-2zM71 434h2v1h-2zM105 434h3v1h-3zM73 435h4v1h-4zM101 435h4v1h-4zM77 436h4v1h-4zM95 436h6v1h-6zM81 437h14v1h-14z"/>
<rect x="2" y="206" width="1667" height="2" fill="#ff0000"/>
<rect x="2" y="329" width="1667" height="2" fill="#00ff7f"/>
<rect x="2" y="411" width="1667" height="2" fill="#4169e1"/>
</g>
<path fill="#c0c0c0" d="M2 554h1v39h-1zM10 554h1v40h-1zM18 554h1v39h-1zM26 554h1v38h-1zM34 554h1v38h-1zM42 554h1v38h-1zM50 554h1v35h-1zM58 554h1v31h-1zM66 554h1v28h-1zM74 554h1v26h-1zM82 554h1v19h-1zM90 554h1v6h-1zM98 549h1v6h-1zM106 541h1v14h-1zM114 536h1v19h-1zM122 532h1v23h-1zM130 527h1v28h-1zM138 522h1v33h-1zM146 521h1v34h-1zM154 521h1v34h-1zM162 522h1v33h-1zM170 523h1v32h-1zM178 525h1v30h-1zM186 523h1v32h-1zM194 520h1v35h-1zM202 518h1v37h-1zM210 518h1v37h-1zM218 518h1v37h-1zM226 519h1v36h-1zM234 523h1v32h-1zM242 524h1v31h-1zM250 524h1v31h-1zM258 526h1v29h-1zM266 527h1v28h-1zM274 528h1v27h-1zM282 530h1v25h-1zM290 529h1v26h-1zM298 529h1v26h-1zM306 530h1v25h-1zM314 532h1v23h-1zM322 534h1v21h-1zM330 536h1v19h-1zM338 541h1v14h-1zM346 541h1v14h-1zM354 542h1v13h-1zM362 543h1v12h-1zM370 544h1v11h-1zM378 544h1v11h-1zM386 542h1v13h-1zM394 540h1v15h-1zM402 538h1v17h-1zM410 537h1v18h-1zM418 536h1v19h-1zM426 534h1v21h-1zM434 534h1v21h-1zM442 532h1v23h-1zM450 532h1v23h-1zM458 532h1v23h-1zM466 532h1v23h-1zM474 531h1v24h-1zM482 531h1v24h-1zM490 529h1v26h-1zM498 528h1v27h-1zM506 529h1v26h-1zM514 529h1v26h-1zM522 529h1v26h-1zM530 529h1v26h-1zM538 526h1v29h-1zM546 524h1v31h-1zM554 525h1v30h-1zM562 526h1v29h-1zM570 528h1v27h-1zM578 530h1v25h-1zM586 528h1v27h-1zM594 528h1v27h-1zM602 528h1v27h-1zM610 529h1v26h-1zM618 529h1v26h-1zM626 530h1v25h-1zM634 529h1v26h-1zM642 529h1v26h-1zM650 530h1v25h-1zM658 530h1v25h-1zM666 530h1v25h-1zM674 532h1v23h-1zM682 538h1v17h-1zM690 542h1v13h-1zM698 545h1v10h-1zM706 547h1v8h-1zM714 550h1v5h-1zM722 553h1v2h-1zM730 553h1v2h-1zM746 553h1v2h-1zM754 553h1v2h-1zM762 553h1v2h-1zM770 552h1v3h-1zM778 552h1v3h-1zM786 550h1v5h-1zM794 548h1v7h-1zM802 545h1v10h-1zM810 542h1v13h-1zM818 541h1v14h-1zM826 540h1v15h-1zM834 537h1v18h-1zM842 535h1v20h-1zM850 533h1v22h-1zM858 531h1v24h-1zM866 530h1v25h-1zM874 529h1v26h-1zM882 531h1v24h-1zM890 532h1v23h-1zM898 532h1v23h-1zM906 533h1v22h-1zM914 533h1v22h-1zM922 534h1v21h-1zM930 534h1v21h-1zM938 533h1v22h-1zM946 536h1v19h-1zM954 538h1v17h-1zM962 539h1v16h-1zM970 542h1v13h-1zM978 543h1v12h-1zM986 546h1v9h-1zM994 550h1v5h-1zM1002 552h1v3h-1zM1010 553h1v2h-1zM1018 553h1v2h-1zM1026 553h1v2h-1zM1034 554h1v2h-1zM1042 554h1v3h-1zM1050 554h1v4h-1zM1058 554h1v5h-1zM1066 550h1v5h-1zM1074 541h1v14h-1zM1082 531h1v24h-1zM1090 525h1v30h-1zM1098 523h1v32h-1zM1106 521h1v34h-1zM1114 515h1v40h-1zM1122 506h1v49h-1zM1130 503h1v52h-1zM1138 503h1v52h-1zM1146 507h1v48h-1zM1154 510h1v45h-1zM1162 515h1v40h-1zM1170 522h1v33h-1zM1178 526h1v29h-1zM1186 530h1v25h-1zM1194 535h1v20h-1zM1202 538h1v17h-1zM1210 527h1v28h-1zM1218 528h1v27h-1zM1226 530h1v25h-1zM1234 536h1v19h-1zM1242 548h1v7h-1zM1250 554h1v13h-1zM1258 554h1v27h-1zM1266 554h1v36h-1zM1274 554h1v46h-1zM1282 554h1v53h-1zM1290 554h1v61h-1zM1298 554h1v64h-1zM1306 554h1v66h-1zM1314 554h1v68h-1zM1322 554h1v68h-1zM1330 554h1v66h-1zM1338 554h1v68h-1zM1346 554h1v68h-1zM1354 554h1v67h-1zM1362 554h1v67h-1zM1370 554h1v65h-1zM1378 554h1v63h-1zM1386 554h1v61h-1zM1394 554h1v63h-1zM1402 554h1v65h-1zM1410 554h1v65h-1zM1418 554h1v65h-1zM1426 554h1v64h-1zM1434 554h1v61h-1zM1442 554h1v59h-1zM1450 554h1v56h-1zM1458 554h1v55h-1zM1466 554h1v53h-1zM1474 554h1v51h-1zM1482 554h1v47h-1zM1490 554h1v49h-1zM1498 554h1v47h-1zM1506 554h1v44h-1zM1514 554h1v41h-1zM1522 554h1v38h-1zM1530 554h1v37h-1zM1538 554h1v33h-1zM1546 554h1v29h-1zM1554 554h1v24h-1zM1562 554h1v21h-1zM1570 554h1v17h-1zM1578 554h1v13h-1zM1586 554h1v11h-1zM1594 554h1v9h-1zM1602 554h1v6h-1zM1610 554h1v2h-1zM1618 553h1v2h-1zM1626 551h1v4h-1zM1634 551h1v4h-1zM1642 552h1v3h-1zM1650 551h1v4h-1z"/>
<path fill="#ff0000" d="M1160 511h3v1h-3zM1166 511h3v1h-3zM1172 511h3v1h-3zM1178 511h3v1h-3zM1154 512h3v1h-3zM1184 512h1v1h-1zM1149 513h2v1h-2zM1185 513h2v1h-2zM1148 514h1v1h-1zM1190 514h1v1h-1zM1144 515h1v1h-1zM1191 515h2v1h-2zM1142 516h2v1h-2zM1196 517h2v1h-2zM1138 518h1v1h-1zM1198 518h1v1h-1zM1136 519h2v1h-2zM218 520h3v1h-3zM224 520h3v1h-3zM230 520h3v1h-3zM236 520h3v1h-3zM242 520h3v1h-3zM248 520h3v1h-3zM254 520h1v1h-1zM1202 520h2v1h-2zM200 521h3v1h-3zM206 521h3v1h-3zM212 521h3v1h-3zM255 521h2v1h-2zM260 521h3v1h-3zM266 521h3v1h-3zM1204 521h1v1h-1zM194 522h3v1h-3zM272 522h1v1h-1zM1131 522h2v1h-2zM1208 522h1v1h-1zM188 523h3v1h-3zM273 523h2v1h-2zM278 523h1v1h-1zM1130 523h1v1h-1zM1209 523h2v1h-2zM182 524h3v1h-3zM279 524h2v1h-2zM284 524h3v1h-3zM1214 524h3v1h-3zM177 525h2v1h-2zM290 525h3v1h-3zM1220 525h1v1h-1zM176 526h1v1h-1zM296 526h3v1h-3zM302 526h1v1h-1zM1221 526h2v1h-2zM170 527h3v1h-3zM303 527h2v1h-2zM308 527h3v1h-3zM554 527h3v1h-3zM560 527h3v1h-3zM566 527h3v1h-3zM572 527h3v1h-3zM578 527h3v1h-3zM584 527h3v1h-3zM590 527h3v1h-3zM596 527h3v1h-3zM602 527h3v1h-3zM608 527h3v1h-3zM614 527h3v1h-3zM620 527h3v1h-3zM1125 527h2v1h-2zM1226 527h2v1h-2zM314 528h3v1h-3zM536 528h3v1h-3zM542 528h3v1h-3zM548 528h3v1h-3zM626 528h3v1h-3zM632 528h3v1h-3zM638 528h3v1h-3zM644 528h3v1h-3zM650 528h3v1h-3zM1124 528h1v1h-1zM1228 528h1v1h-1zM164 529h3v1h-3zM320 529h3v1h-3zM326 529h1v1h-1zM519 529h2v1h-2zM524 529h3v1h-3zM530 529h3v1h-3zM656 529h3v1h-3zM662 529h3v1h-3zM668 529h3v1h-3zM674 529h3v1h-3zM1232 529h1v1h-1zM327 530h2v1h-2zM332 530h1v1h-1zM506 530h3v1h-3zM512 530h3v1h-3zM518 530h1v1h-1zM680 530h3v1h-3zM1233 530h2v1h-2zM160 531h1v1h-1zM333 531h2v1h-2zM488 531h3v1h-3zM494 531h3v1h-3zM500 531h3v1h-3zM686 531h3v1h-3zM903 531h2v1h-2zM908 531h3v1h-3zM914 531h3v1h-3zM920 531h3v1h-3zM926 531h3v1h-3zM932 531h3v1h-3zM1120 531h1v1h-1zM1238 531h1v1h-1zM158 532h2v1h-2zM338 532h3v1h-3zM482 532h3v1h-3zM692 532h3v1h-3zM896 532h3v1h-3zM902 532h1v1h-1zM938 532h3v1h-3zM1119 532h1v1h-1zM1239 532h2v1h-2zM344 533h3v1h-3zM350 533h1v1h-1zM471 533h2v1h-2zM476 533h3v1h-3zM698 533h3v1h-3zM890 533h3v1h-3zM944 533h3v1h-3zM950 533h3v1h-3zM956 533h3v1h-3zM1118 533h1v1h-1zM154 534h1v1h-1zM351 534h2v1h-2zM356 534h1v1h-1zM458 534h3v1h-3zM464 534h3v1h-3zM470 534h1v1h-1zM704 534h1v1h-1zM879 534h2v1h-2zM884 534h3v1h-3zM962 534h3v1h-3zM1244 534h2v1h-2zM153 535h1v1h-1zM357 535h2v1h-2zM453 535h2v1h-2zM705 535h2v1h-2zM873 535h2v1h-2zM878 535h1v1h-1zM968 535h3v1h-3zM974 535h1v1h-1zM1114 535h1v1h-1zM1246 535h1v1h-1zM152 536h1v1h-1zM362 536h3v1h-3zM447 536h2v1h-2zM452 536h1v1h-1zM710 536h1v1h-1zM872 536h1v1h-1zM975 536h2v1h-2zM980 536h1v1h-1zM1112 536h2v1h-2zM368 537h1v1h-1zM440 537h3v1h-3zM446 537h1v1h-1zM711 537h2v1h-2zM866 537h3v1h-3zM981 537h2v1h-2zM1250 537h1v1h-1zM369 538h2v1h-2zM374 538h1v1h-1zM434 538h3v1h-3zM716 538h1v1h-1zM861 538h2v1h-2zM986 538h3v1h-3zM1251 538h2v1h-2zM147 539h2v1h-2zM375 539h2v1h-2zM380 539h3v1h-3zM423 539h2v1h-2zM428 539h3v1h-3zM717 539h2v1h-2zM860 539h1v1h-1zM992 539h1v1h-1zM1107 539h2v1h-2zM146 540h1v1h-1zM386 540h3v1h-3zM416 540h3v1h-3zM422 540h1v1h-1zM722 540h2v1h-2zM854 540h3v1h-3zM993 540h2v1h-2zM1106 540h1v1h-1zM392 541h3v1h-3zM398 541h3v1h-3zM404 541h3v1h-3zM410 541h3v1h-3zM724 541h1v1h-1zM849 541h2v1h-2zM998 541h3v1h-3zM1256 541h1v1h-1zM728 542h1v1h-1zM848 542h1v1h-1zM1004 542h1v1h-1zM1102 542h1v1h-1zM1257 542h1v1h-1zM142 543h1v1h-1zM729 543h2v1h-2zM842 543h3v1h-3zM1005 543h2v1h-2zM1100 543h2v1h-2zM1258 543h1v1h-1zM141 544h1v1h-1zM734 544h3v1h-3zM837 544h2v1h-2zM1010 544h3v1h-3zM140 545h1v1h-1zM836 545h1v1h-1zM1016 545h1v1h-1zM1095 545h2v1h-2zM740 546h3v1h-3zM830 546h3v1h-3zM1017 546h2v1h-2zM1022 546h1v1h-1zM1094 546h1v1h-1zM1262 546h1v1h-1zM824 547h3v1h-3zM1023 547h2v1h-2zM1028 547h1v1h-1zM1089 547h2v1h-2zM1263 547h2v1h-2zM136 548h1v1h-1zM746 548h3v1h-3zM818 548h3v1h-3zM1029 548h2v1h-2zM1088 548h1v1h-1zM135 549h1v1h-1zM752 549h1v1h-1zM812 549h3v1h-3zM1034 549h3v1h-3zM1084 549h1v1h-1zM134 550h1v1h-1zM753 550h2v1h-2zM758 550h1v1h-1zM806 550h3v1h-3zM1040 550h1v1h-1zM1082 550h2v1h-2zM759 551h2v1h-2zM764 551h3v1h-3zM800 551h3v1h-3zM1041 551h2v1h-2zM1268 551h1v1h-1zM770 552h3v1h-3zM776 552h3v1h-3zM782 552h3v1h-3zM788 552h3v1h-3zM794 552h3v1h-3zM1046 552h3v1h-3zM1076 552h3v1h-3zM1269 552h2v1h-2zM130 553h1v1h-1zM1052 553h3v1h-3zM1071 553h2v1h-2zM129 554h1v1h-1zM1058 554h3v1h-3zM1064 554h3v1h-3zM1070 554h1v1h-1zM128 555h1v1h-1zM1274 556h1v1h-1zM1646 556h3v1h-3zM1275 557h1v1h-1zM1641 557h2v1h-2zM123 558h2v1h-2zM1276 558h1v1h-1zM1640 558h1v1h-1zM122 559h1v1h-1zM1634 559h3v1h-3zM1628 561h3v1h-3zM118 562h1v1h-1zM1279 562h1v1h-1zM117 563h1v1h-1zM1280 563h1v1h-1zM1623 563h2v1h-2zM116 564h1v1h-1zM1281 564h1v1h-1zM1622 564h1v1h-1zM1617 565h2v1h-2zM1616 566h1v1h-1zM112 567h1v1h-1zM1612 567h1v1h-1zM111 568h1v1h-1zM1285 568h1v1h-1zM1610 568h2v1h-2zM110 569h1v1h-1zM1286 569h1v2h-1zM1604 570h3v1h-3zM106 572h1v1h-1zM1600 572h1v1h-1zM104 573h2v1h-2zM1598 573h2v1h-2zM1290 574h1v1h-1zM1291 575h1v1h-1zM1593 575h2v1h-2zM99 576h2v1h-2zM1292 576h1v1h-1zM1592 576h1v1h-1zM98 577h1v1h-1zM1588 577h1v1h-1zM1586 578h2v1h-2zM2 580h2v1h-2zM93 580h2v1h-2zM1295 580h1v1h-1zM1580 580h3v1h-3zM4 581h1v1h-1zM92 581h1v1h-1zM1296 581h1v2h-1zM1576 582h1v1h-1zM8 583h2v1h-2zM88 583h1v1h-1zM1574 583h2v1h-2zM10 584h1v1h-1zM86 584h2v1h-2zM1569 585h2v1h-2zM14 586h2v1h-2zM81 586h2v1h-2zM1300 586h1v1h-1zM1568 586h1v1h-1zM16 587h1v1h-1zM80 587h1v1h-1zM1301 587h1v1h-1zM1564 587h1v1h-1zM20 588h1v1h-1zM74 588h3v1h-3zM1302 588h1v1h-1zM1562 588h2v1h-2zM21 589h2v1h-2zM68 589h3v1h-3zM26 590h3v1h-3zM62 590h3v1h-3zM1556 590h3v1h-3zM32 591h3v1h-3zM38 591h1v1h-1zM56 591h3v1h-3zM39 592h2v1h-2zM44 592h3v1h-3zM50 592h3v1h-3zM1305 592h1v1h-1zM1551 592h2v1h-2zM1306 593h1v1h-1zM1550 593h1v1h-1zM1307 594h1v1h-1zM1545 594h2v1h-2zM1544 595h1v1h-1zM1538 596h3v1h-3zM1310 598h1v1h-1zM1532 598h3v1h-3zM1311 599h1v1h-1zM1312 600h1v1h-1zM1526 600h3v1h-3zM1521 601h2v1h-2zM1520 602h1v1h-1zM1316 603h1v1h-1zM1514 603h3v1h-3zM1317 604h1v1h-1zM1509 604h2v1h-2zM1318 605h1v1h-1zM1503 605h2v1h-2zM1508 605h1v1h-1zM1497 606h2v1h-2zM1502 606h1v1h-1zM1496 607h1v1h-1zM1322 608h2v1h-2zM1490 608h3v1h-3zM1324 609h1v1h-1zM1485 609h2v1h-2zM1484 610h1v1h-1zM1328 611h2v1h-2zM1478 611h3v1h-3zM1330 612h1v1h-1zM1473 612h2v1h-2zM1472 613h1v1h-1zM1334 614h2v1h-2zM1466 614h3v1h-3zM1336 615h1v1h-1zM1448 615h3v1h-3zM1454 615h3v1h-3zM1460 615h3v1h-3zM1340 616h1v1h-1zM1442 616h3v1h-3zM1341 617h2v1h-2zM1431 617h2v1h-2zM1436 617h3v1h-3zM1346 618h3v1h-3zM1407 618h2v1h-2zM1412 618h3v1h-3zM1418 618h3v1h-3zM1424 618h3v1h-3zM1430 618h1v1h-1zM1352 619h1v1h-1zM1383 619h2v1h-2zM1388 619h3v1h-3zM1394 619h3v1h-3zM1400 619h3v1h-3zM1406 619h1v1h-1zM1353 620h2v1h-2zM1358 620h3v1h-3zM1364 620h3v1h-3zM1370 620h3v1h-3zM1376 620h3v1h-3zM1382 620h1v1h-1z"/>
<path d="M3 669.5H1669M3 718.5H1669" stroke="#c0c0c0" stroke-width="1" stroke-dasharray="3 3" fill="none"/>
<path fill="#1e90ff" d="M1082 659h1v1h-1zM1081 660h1v1h-1zM1083 660h1v1h-1zM1079 661h2v1h-2zM1084 661h1v2h-1zM1122 661h1v1h-1zM1078 662h1v1h-1zM1120 662h2v1h-2zM1123 662h1v1h-1zM1077 663h1v1h-1zM1085 663h1v1h-1zM1118 663h2v1h-2zM1124 663h1v1h-1zM543 664h4v1h-4zM863 664h8v1h-8zM1075 664h2v1h-2zM1086 664h1v1h-1zM1116 664h2v1h-2zM1125 664h1v1h-1zM538 665h5v1h-5zM547 665h1v2h-1zM857 665h6v1h-6zM871 665h4v1h-4zM1071 665h4v1h-4zM1087 665h1v1h-1zM1114 665h2v1h-2zM1126 665h1v1h-1zM537 666h1v1h-1zM855 666h2v1h-2zM874 666h1v1h-1zM1066 666h5v1h-5zM1088 666h1v2h-1zM1113 666h1v1h-1zM1127 666h1v1h-1zM536 667h1v1h-1zM548 667h1v2h-1zM852 667h3v1h-3zM875 667h1v2h-1zM1066 667h1v2h-1zM1112 667h1v1h-1zM1128 667h1v1h-1zM535 668h1v1h-1zM655 668h12v1h-12zM841 668h11v1h-11zM1089 668h1v1h-1zM1111 668h1v1h-1zM1129 668h1v1h-1zM533 669h2v1h-2zM549 669h1v2h-1zM647 669h8v1h-8zM667 669h1v1h-1zM839 669h2v1h-2zM876 669h1v2h-1zM1065 669h1v4h-1zM1090 669h1v1h-1zM1110 669h1v2h-1zM1130 669h1v1h-1zM532 670h1v1h-1zM639 670h8v1h-8zM668 670h1v1h-1zM836 670h3v1h-3zM1091 670h2v1h-2zM1131 670h2v1h-2zM137 671h2v1h-2zM531 671h1v1h-1zM550 671h1v1h-1zM633 671h6v1h-6zM669 671h1v1h-1zM834 671h2v1h-2zM877 671h1v2h-1zM1093 671h1v1h-1zM1109 671h1v1h-1zM1133 671h2v1h-2zM1210 671h1v2h-1zM95 672h6v1h-6zM135 672h2v1h-2zM139 672h1v1h-1zM426 672h1v1h-1zM529 672h2v1h-2zM551 672h1v2h-1zM586 672h5v1h-5zM629 672h4v1h-4zM670 672h1v2h-1zM810 672h2v1h-2zM832 672h2v1h-2zM930 672h9v1h-9zM1094 672h1v1h-1zM1108 672h1v1h-1zM1135 672h1v1h-1zM90 673h5v1h-5zM101 673h4v1h-4zM132 673h3v1h-3zM140 673h1v1h-1zM193 673h4v1h-4zM425 673h1v1h-1zM427 673h1v2h-1zM489 673h6v1h-6zM527 673h2v1h-2zM585 673h1v1h-1zM591 673h6v1h-6zM625 673h4v1h-4zM808 673h2v1h-2zM812 673h2v1h-2zM831 673h1v1h-1zM878 673h1v2h-1zM929 673h1v1h-1zM938 673h1v1h-1zM1064 673h1v4h-1zM1095 673h2v1h-2zM1107 673h1v1h-1zM1136 673h2v1h-2zM1209 673h1v3h-1zM1211 673h1v2h-1zM89 674h1v2h-1zM105 674h3v1h-3zM129 674h3v1h-3zM141 674h1v1h-1zM191 674h2v1h-2zM197 674h4v1h-4zM423 674h2v1h-2zM487 674h2v1h-2zM495 674h5v1h-5zM524 674h3v1h-3zM552 674h1v2h-1zM584 674h1v1h-1zM597 674h4v1h-4zM621 674h4v1h-4zM671 674h1v1h-1zM806 674h2v1h-2zM814 674h2v1h-2zM829 674h2v1h-2zM928 674h1v1h-1zM939 674h1v2h-1zM1097 674h1v1h-1zM1103 674h4v1h-4zM1138 674h1v1h-1zM108 675h2v1h-2zM127 675h2v1h-2zM142 675h1v1h-1zM188 675h3v1h-3zM201 675h3v1h-3zM422 675h1v1h-1zM428 675h1v1h-1zM442 675h1v1h-1zM484 675h3v1h-3zM500 675h3v1h-3zM519 675h5v1h-5zM583 675h1v1h-1zM601 675h20v1h-20zM672 675h1v1h-1zM804 675h2v1h-2zM816 675h2v1h-2zM827 675h2v1h-2zM879 675h1v2h-1zM927 675h1v1h-1zM1098 675h5v1h-5zM1139 675h1v2h-1zM1212 675h1v2h-1zM88 676h1v2h-1zM110 676h2v1h-2zM124 676h3v1h-3zM143 676h1v1h-1zM186 676h2v1h-2zM204 676h3v1h-3zM402 676h2v1h-2zM421 676h1v1h-1zM429 676h1v2h-1zM441 676h1v1h-1zM443 676h2v1h-2zM481 676h3v1h-3zM503 676h2v1h-2zM511 676h8v1h-8zM553 676h1v2h-1zM582 676h1v2h-1zM673 676h1v1h-1zM799 676h5v1h-5zM818 676h9v1h-9zM913 676h3v1h-3zM925 676h2v1h-2zM940 676h1v2h-1zM1208 676h1v2h-1zM112 677h2v1h-2zM119 677h5v1h-5zM144 677h1v1h-1zM185 677h1v1h-1zM207 677h2v1h-2zM400 677h2v1h-2zM404 677h3v1h-3zM419 677h2v1h-2zM440 677h1v1h-1zM445 677h1v1h-1zM477 677h4v1h-4zM505 677h6v1h-6zM674 677h1v2h-1zM793 677h6v1h-6zM880 677h1v2h-1zM890 677h3v1h-3zM909 677h4v1h-4zM916 677h3v1h-3zM924 677h1v1h-1zM1063 677h1v4h-1zM1140 677h1v1h-1zM1213 677h1v2h-1zM87 678h1v2h-1zM114 678h5v1h-5zM145 678h1v1h-1zM184 678h1v2h-1zM209 678h6v1h-6zM290 678h9v1h-9zM398 678h2v1h-2zM407 678h2v1h-2zM415 678h4v1h-4zM430 678h1v1h-1zM439 678h1v1h-1zM446 678h1v1h-1zM473 678h4v1h-4zM554 678h3v1h-3zM581 678h1v1h-1zM791 678h2v1h-2zM888 678h2v1h-2zM893 678h4v1h-4zM903 678h6v1h-6zM919 678h2v1h-2zM923 678h1v1h-1zM941 678h1v2h-1zM1141 678h1v1h-1zM1207 678h1v3h-1zM146 679h3v1h-3zM215 679h12v1h-12zM289 679h1v1h-1zM299 679h2v1h-2zM396 679h2v1h-2zM409 679h6v1h-6zM431 679h1v2h-1zM438 679h1v2h-1zM447 679h2v1h-2zM469 679h4v1h-4zM557 679h4v1h-4zM580 679h1v1h-1zM675 679h1v4h-1zM788 679h3v1h-3zM881 679h1v2h-1zM887 679h1v1h-1zM897 679h6v1h-6zM921 679h2v1h-2zM1142 679h1v2h-1zM1214 679h1v2h-1zM86 680h1v1h-1zM149 680h4v1h-4zM183 680h1v1h-1zM227 680h1v1h-1zM288 680h1v1h-1zM301 680h2v1h-2zM386 680h10v1h-10zM449 680h1v1h-1zM463 680h6v1h-6zM561 680h6v1h-6zM579 680h1v1h-1zM786 680h2v1h-2zM885 680h2v1h-2zM942 680h1v2h-1zM85 681h1v2h-1zM153 681h3v1h-3zM182 681h1v1h-1zM228 681h1v1h-1zM247 681h6v1h-6zM287 681h1v1h-1zM303 681h1v1h-1zM385 681h1v1h-1zM432 681h1v1h-1zM437 681h1v1h-1zM450 681h13v1h-13zM567 681h12v1h-12zM785 681h1v1h-1zM882 681h3v1h-3zM1062 681h1v5h-1zM1143 681h1v1h-1zM1206 681h1v3h-1zM1215 681h1v2h-1zM156 682h3v1h-3zM169 682h3v1h-3zM181 682h1v1h-1zM229 682h1v1h-1zM242 682h5v1h-5zM253 682h4v1h-4zM263 682h12v1h-12zM286 682h1v2h-1zM304 682h2v1h-2zM383 682h2v1h-2zM433 682h1v2h-1zM436 682h1v1h-1zM784 682h1v1h-1zM882 682h1v1h-1zM943 682h1v2h-1zM1144 682h1v1h-1zM1610 682h3v1h-3zM84 683h1v2h-1zM159 683h2v1h-2zM165 683h4v1h-4zM172 683h2v1h-2zM180 683h1v2h-1zM230 683h1v2h-1zM241 683h1v1h-1zM257 683h6v1h-6zM275 683h2v1h-2zM306 683h2v1h-2zM382 683h1v1h-1zM435 683h1v1h-1zM676 683h1v3h-1zM783 683h1v1h-1zM1145 683h1v2h-1zM1216 683h1v2h-1zM1609 683h1v1h-1zM1613 683h4v1h-4zM161 684h4v1h-4zM174 684h2v1h-2zM239 684h2v1h-2zM277 684h2v1h-2zM285 684h1v1h-1zM308 684h2v1h-2zM381 684h1v1h-1zM434 684h1v1h-1zM782 684h1v2h-1zM944 684h1v2h-1zM1151 684h5v1h-5zM1205 684h1v3h-1zM1608 684h1v1h-1zM1617 684h6v1h-6zM83 685h1v2h-1zM176 685h2v1h-2zM179 685h1v1h-1zM231 685h1v1h-1zM238 685h1v1h-1zM279 685h1v1h-1zM284 685h1v1h-1zM310 685h2v1h-2zM379 685h2v1h-2zM1146 685h5v1h-5zM1156 685h2v1h-2zM1217 685h1v2h-1zM1607 685h1v1h-1zM1623 685h5v1h-5zM178 686h1v1h-1zM232 686h1v1h-1zM237 686h1v1h-1zM280 686h2v1h-2zM283 686h1v1h-1zM312 686h2v1h-2zM378 686h1v1h-1zM677 686h1v3h-1zM781 686h1v1h-1zM945 686h1v2h-1zM1061 686h1v4h-1zM1158 686h2v1h-2zM1606 686h1v1h-1zM1628 686h2v1h-2zM82 687h1v1h-1zM233 687h1v1h-1zM235 687h2v1h-2zM282 687h1v1h-1zM314 687h13v1h-13zM376 687h2v1h-2zM780 687h1v1h-1zM953 687h6v1h-6zM1160 687h2v1h-2zM1204 687h1v2h-1zM1218 687h2v1h-2zM1605 687h1v1h-1zM1630 687h2v1h-2zM81 688h1v2h-1zM234 688h1v1h-1zM327 688h4v1h-4zM346 688h13v1h-13zM374 688h2v1h-2zM779 688h1v1h-1zM946 688h1v2h-1zM949 688h4v1h-4zM959 688h5v1h-5zM1162 688h1v1h-1zM1220 688h3v1h-3zM1604 688h1v1h-1zM1632 688h2v1h-2zM331 689h1v2h-1zM345 689h1v2h-1zM359 689h8v1h-8zM372 689h2v1h-2zM678 689h1v4h-1zM746 689h5v1h-5zM775 689h4v1h-4zM947 689h2v1h-2zM964 689h2v1h-2zM1163 689h1v1h-1zM1203 689h1v3h-1zM1223 689h2v1h-2zM1603 689h1v1h-1zM1634 689h1v1h-1zM80 690h1v2h-1zM367 690h5v1h-5zM745 690h1v1h-1zM751 690h5v1h-5zM769 690h6v1h-6zM966 690h2v1h-2zM977 690h2v1h-2zM1060 690h1v4h-1zM1164 690h1v1h-1zM1178 690h3v1h-3zM1225 690h2v1h-2zM1577 690h3v1h-3zM1601 690h2v1h-2zM1635 690h2v1h-2zM332 691h1v1h-1zM344 691h1v1h-1zM744 691h1v2h-1zM756 691h3v1h-3zM767 691h2v1h-2zM968 691h2v1h-2zM973 691h4v1h-4zM979 691h1v1h-1zM1165 691h2v1h-2zM1176 691h2v1h-2zM1181 691h4v1h-4zM1227 691h2v1h-2zM1573 691h4v1h-4zM1580 691h3v1h-3zM1599 691h2v1h-2zM1637 691h2v1h-2zM1649 691h2v1h-2zM79 692h1v1h-1zM333 692h1v1h-1zM343 692h1v1h-1zM759 692h2v1h-2zM764 692h3v1h-3zM970 692h3v1h-3zM980 692h1v1h-1zM1167 692h1v1h-1zM1175 692h1v1h-1zM1185 692h3v1h-3zM1202 692h1v2h-1zM1229 692h1v1h-1zM1569 692h4v1h-4zM1583 692h2v1h-2zM1596 692h3v1h-3zM1639 692h1v1h-1zM1647 692h2v1h-2zM78 693h1v2h-1zM334 693h1v2h-1zM342 693h1v2h-1zM679 693h1v3h-1zM743 693h1v1h-1zM761 693h3v1h-3zM981 693h2v1h-2zM1168 693h1v1h-1zM1173 693h2v1h-2zM1188 693h3v1h-3zM1201 693h1v1h-1zM1230 693h1v1h-1zM1553 693h4v1h-4zM1567 693h2v1h-2zM1585 693h11v1h-11zM1640 693h2v1h-2zM1644 693h3v1h-3zM730 694h1v1h-1zM742 694h1v1h-1zM983 694h1v1h-1zM1059 694h1v4h-1zM1169 694h1v1h-1zM1171 694h2v1h-2zM1191 694h2v1h-2zM1197 694h4v1h-4zM1231 694h2v1h-2zM1551 694h2v1h-2zM1557 694h4v1h-4zM1564 694h3v1h-3zM1642 694h2v1h-2zM77 695h1v1h-1zM335 695h1v1h-1zM341 695h1v1h-1zM729 695h1v1h-1zM731 695h2v1h-2zM741 695h1v1h-1zM984 695h1v1h-1zM1026 695h1v1h-1zM1170 695h1v1h-1zM1193 695h4v1h-4zM1233 695h1v1h-1zM1548 695h3v1h-3zM1561 695h3v1h-3zM65 696h3v1h-3zM76 696h1v2h-1zM336 696h1v1h-1zM340 696h1v1h-1zM680 696h1v3h-1zM705 696h3v1h-3zM728 696h1v1h-1zM733 696h2v1h-2zM740 696h1v2h-1zM985 696h1v1h-1zM1010 696h1v1h-1zM1025 696h1v1h-1zM1027 696h2v1h-2zM1234 696h1v1h-1zM1545 696h3v1h-3zM61 697h4v1h-4zM68 697h2v1h-2zM337 697h1v2h-1zM339 697h1v2h-1zM701 697h4v1h-4zM708 697h2v1h-2zM727 697h1v1h-1zM735 697h1v1h-1zM986 697h1v1h-1zM1008 697h2v1h-2zM1011 697h1v1h-1zM1024 697h1v1h-1zM1029 697h2v1h-2zM1235 697h1v1h-1zM1541 697h4v1h-4zM57 698h4v1h-4zM70 698h2v1h-2zM75 698h1v2h-1zM697 698h4v1h-4zM710 698h2v1h-2zM726 698h1v2h-1zM736 698h2v1h-2zM739 698h1v1h-1zM987 698h1v1h-1zM1006 698h2v1h-2zM1012 698h1v1h-1zM1023 698h1v1h-1zM1031 698h1v1h-1zM1058 698h1v3h-1zM1236 698h1v1h-1zM1538 698h3v1h-3zM55 699h2v1h-2zM72 699h2v1h-2zM338 699h1v1h-1zM681 699h1v4h-1zM693 699h4v1h-4zM712 699h2v1h-2zM738 699h1v1h-1zM988 699h1v1h-1zM1004 699h2v1h-2zM1013 699h2v1h-2zM1022 699h1v1h-1zM1032 699h2v1h-2zM1039 699h8v1h-8zM1237 699h1v1h-1zM1537 699h1v1h-1zM52 700h3v1h-3zM74 700h1v1h-1zM690 700h3v1h-3zM714 700h2v1h-2zM725 700h1v1h-1zM989 700h1v1h-1zM1002 700h2v1h-2zM1015 700h1v1h-1zM1021 700h1v1h-1zM1034 700h5v1h-5zM1047 700h11v1h-11zM1238 700h1v2h-1zM1536 700h1v1h-1zM50 701h2v1h-2zM688 701h2v1h-2zM716 701h3v1h-3zM724 701h1v1h-1zM990 701h1v1h-1zM1000 701h2v1h-2zM1016 701h1v1h-1zM1020 701h1v1h-1zM1535 701h1v1h-1zM49 702h1v1h-1zM686 702h2v1h-2zM719 702h2v1h-2zM723 702h1v1h-1zM991 702h1v1h-1zM999 702h1v1h-1zM1017 702h1v1h-1zM1019 702h1v1h-1zM1239 702h1v1h-1zM1513 702h6v1h-6zM1534 702h1v2h-1zM48 703h1v2h-1zM682 703h1v2h-1zM684 703h2v1h-2zM721 703h2v1h-2zM992 703h1v1h-1zM997 703h2v1h-2zM1018 703h1v1h-1zM1240 703h1v1h-1zM1509 703h4v1h-4zM1519 703h5v1h-5zM683 704h1v1h-1zM993 704h1v1h-1zM995 704h2v1h-2zM1241 704h1v1h-1zM1506 704h3v1h-3zM1524 704h2v1h-2zM1533 704h1v1h-1zM23 705h5v1h-5zM47 705h1v1h-1zM994 705h1v1h-1zM1242 705h1v1h-1zM1504 705h2v1h-2zM1526 705h2v1h-2zM1532 705h1v1h-1zM17 706h6v1h-6zM28 706h3v1h-3zM46 706h1v1h-1zM1243 706h1v1h-1zM1482 706h1v1h-1zM1503 706h1v1h-1zM1528 706h2v1h-2zM1531 706h1v1h-1zM13 707h4v1h-4zM31 707h2v1h-2zM45 707h1v1h-1zM1244 707h1v2h-1zM1480 707h2v1h-2zM1483 707h1v1h-1zM1501 707h2v1h-2zM1530 707h1v1h-1zM2 708h11v1h-11zM33 708h3v1h-3zM44 708h1v2h-1zM1434 708h2v1h-2zM1479 708h1v1h-1zM1484 708h1v2h-1zM1499 708h2v1h-2zM36 709h3v1h-3zM1245 709h1v1h-1zM1329 709h2v1h-2zM1433 709h1v1h-1zM1436 709h3v1h-3zM1449 709h3v1h-3zM1477 709h2v1h-2zM1498 709h1v1h-1zM39 710h2v1h-2zM43 710h1v1h-1zM1246 710h1v1h-1zM1325 710h4v1h-4zM1331 710h2v1h-2zM1375 710h8v1h-8zM1432 710h1v2h-1zM1439 710h2v1h-2zM1445 710h4v1h-4zM1452 710h3v1h-3zM1475 710h2v1h-2zM1485 710h1v1h-1zM1497 710h1v1h-1zM41 711h2v1h-2zM1247 711h1v1h-1zM1263 711h6v1h-6zM1298 711h5v1h-5zM1321 711h4v1h-4zM1333 711h2v1h-2zM1353 711h4v1h-4zM1369 711h6v1h-6zM1383 711h4v1h-4zM1441 711h4v1h-4zM1455 711h2v1h-2zM1471 711h4v1h-4zM1486 711h1v1h-1zM1496 711h1v1h-1zM1248 712h1v2h-1zM1257 712h6v1h-6zM1269 712h4v1h-4zM1296 712h2v1h-2zM1303 712h8v1h-8zM1317 712h4v1h-4zM1335 712h1v1h-1zM1351 712h2v1h-2zM1357 712h4v1h-4zM1365 712h4v1h-4zM1387 712h2v1h-2zM1431 712h1v1h-1zM1457 712h14v1h-14zM1487 712h1v1h-1zM1495 712h1v1h-1zM1255 713h2v1h-2zM1273 713h11v1h-11zM1295 713h1v1h-1zM1311 713h6v1h-6zM1336 713h2v1h-2zM1348 713h3v1h-3zM1361 713h4v1h-4zM1389 713h2v1h-2zM1430 713h1v1h-1zM1488 713h1v2h-1zM1493 713h2v1h-2zM1249 714h1v1h-1zM1252 714h3v1h-3zM1284 714h3v1h-3zM1293 714h2v1h-2zM1338 714h10v1h-10zM1391 714h1v1h-1zM1429 714h1v1h-1zM1492 714h1v1h-1zM1250 715h2v1h-2zM1287 715h2v1h-2zM1291 715h2v1h-2zM1392 715h2v1h-2zM1428 715h1v2h-1zM1489 715h1v1h-1zM1491 715h1v1h-1zM1289 716h2v1h-2zM1394 716h2v1h-2zM1490 716h1v1h-1zM1396 717h2v1h-2zM1427 717h1v1h-1zM1398 718h2v1h-2zM1409 718h18v1h-18zM1400 719h2v1h-2zM1405 719h4v1h-4zM1402 720h3v1h-3z"/>
<path fill="#000" d="M1670 60h2v1h-2zM1670 93h2v1h-2zM1670 126h2v1h-2zM1670 159h2v1h-2zM1670 192h2v1h-2zM1670 225h2v1h-2zM1670 258h2v1h-2zM1670 291h2v1h-2zM1670 324h2v1h-2zM1670 357h2v1h-2zM1670 390h2v1h-2zM1670 423h2v1h-2zM1670 456h2v1h-2zM1670 489h2v1h-2zM1670 554h2v1h-2zM1670 496h1v1h-1zM1670 628h1v1h-1zM1670 633h1v1h-1zM1670 754h1v1h-1zM2 756h1v3h-1zM66 756h1v3h-1zM130 756h1v3h-1zM194 756h1v3h-1zM258 756h1v3h-1zM322 756h1v3h-1zM386 756h1v3h-1zM450 756h1v3h-1zM514 756h1v3h-1zM578 756h1v3h-1zM642 756h1v3h-1zM706 756h1v3h-1zM770 756h1v3h-1zM834 756h1v3h-1zM898 756h1v3h-1zM962 756h1v3h-1zM1026 756h1v3h-1zM1090 756h1v3h-1zM1154 756h1v3h-1zM1218 756h1v3h-1zM1282 756h1v3h-1zM1346 756h1v3h-1zM1410 756h1v3h-1zM1474 756h1v3h-1zM1538 756h1v3h-1zM1602 756h1v3h-1z"/>
<rect x="1671" y="201" width="36" height="11" fill="#ff0000"/>
<rect x="1671" y="331" width="36" height="11" fill="#000"/>
<rect x="1671" y="324" width="36" height="11" fill="#00ff7f"/>
<rect x="1671" y="406" width="36" height="11" fill="#4169e1"/>
<path d="M5 43h7l-3.5 4z" fill="#000" shape-rendering="geometricPrecision"/>
</g>
<text x="491.5" y="160.3" textLength="199.5" lengthAdjust="spacingAndGlyphs" style="font-family:'Liberation Sans','Noto Sans CJK SC',sans-serif;font-size:32.6px;fill:#ff2000;stroke:none">多空转折点59</text>
<text x="17.2" y="48" textLength="43" lengthAdjust="spacingAndGlyphs">USOil-,H4</text>
<text x="65.9" y="48" textLength="28" lengthAdjust="spacingAndGlyphs">58.710</text>
<text x="96.9" y="48" textLength="28" lengthAdjust="spacingAndGlyphs">58.870</text>
<text x="127.9" y="48" textLength="28" lengthAdjust="spacingAndGlyphs">58.550</text>
<text x="158.9" y="48" textLength="28" lengthAdjust="spacingAndGlyphs">58.870</text>
<text x="6.1" y="507" textLength="66.2" lengthAdjust="spacingAndGlyphs">MACD(12,26,9)</text>
<text x="75.0" y="507" textLength="28.5" lengthAdjust="spacingAndGlyphs">0.0540</text>
<text x="106.0" y="507" textLength="31.5" lengthAdjust="spacingAndGlyphs">-0.0110</text>
<text x="5.9" y="644" textLength="32" lengthAdjust="spacingAndGlyphs">RSI(14)</text>
<text x="40.8" y="644" textLength="33.3" lengthAdjust="spacingAndGlyphs">52.3571</text>
<text x="1675" y="64" textLength="28" lengthAdjust="spacingAndGlyphs">65.570</text>
<text x="1675" y="97" textLength="28" lengthAdjust="spacingAndGlyphs">64.770</text>
<text x="1675" y="130" textLength="28" lengthAdjust="spacingAndGlyphs">63.970</text>
<text x="1675" y="163" textLength="28" lengthAdjust="spacingAndGlyphs">63.170</text>
<text x="1675" y="196" textLength="28" lengthAdjust="spacingAndGlyphs">62.370</text>
<text x="1675" y="229" textLength="28" lengthAdjust="spacingAndGlyphs">61.570</text>
<text x="1675" y="262" textLength="28" lengthAdjust="spacingAndGlyphs">60.750</text>
<text x="1675" y="295" textLength="28" lengthAdjust="spacingAndGlyphs">59.950</text>
<text x="1675" y="328" textLength="28" lengthAdjust="spacingAndGlyphs">59.150</text>
<text x="1675" y="361" textLength="28" lengthAdjust="spacingAndGlyphs">58.350</text>
<text x="1675" y="394" textLength="28" lengthAdjust="spacingAndGlyphs">57.550</text>
<text x="1675" y="427" textLength="28" lengthAdjust="spacingAndGlyphs">56.730</text>
<text x="1675" y="460" textLength="28" lengthAdjust="spacingAndGlyphs">55.930</text>
<text x="1675" y="493" textLength="28" lengthAdjust="spacingAndGlyphs">55.130</text>
<text x="1675" y="210" textLength="28" lengthAdjust="spacingAndGlyphs" style="fill:#fff;stroke:#fff">62.000</text>
<text x="1675" y="340" textLength="28" lengthAdjust="spacingAndGlyphs" style="fill:#fff;stroke:#fff">58.870</text>
<rect x="1671" y="324" width="36" height="11" fill="#00ff7f"/>
<text x="1675" y="333" textLength="28" lengthAdjust="spacingAndGlyphs" style="fill:#fff;stroke:#fff">59.000</text>
<text x="1675" y="415" textLength="28" lengthAdjust="spacingAndGlyphs" style="fill:#fff;stroke:#fff">57.000</text>
<text x="1673" y="505" textLength="28" lengthAdjust="spacingAndGlyphs">0.7782</text>
<text x="1673" y="558" textLength="18" lengthAdjust="spacingAndGlyphs">0.00</text>
<text x="1674.4" y="626" textLength="30.5" lengthAdjust="spacingAndGlyphs">-0.9773</text>
<text x="1673" y="642" textLength="15" lengthAdjust="spacingAndGlyphs">100</text>
<text x="1673" y="673" textLength="10" lengthAdjust="spacingAndGlyphs">70</text>
<text x="1673" y="722" textLength="10" lengthAdjust="spacingAndGlyphs">30</text>
<text x="1673" y="752" textLength="5" lengthAdjust="spacingAndGlyphs">0</text>
<text x="0.8" y="768" textLength="47" lengthAdjust="spacingAndGlyphs">2 Dec 2019</text>
<text x="64.8" y="768" textLength="50" lengthAdjust="spacingAndGlyphs">4 Dec 00:00</text>
<text x="128.8" y="768" textLength="50" lengthAdjust="spacingAndGlyphs">5 Dec 08:00</text>
<text x="192.8" y="768" textLength="50" lengthAdjust="spacingAndGlyphs">6 Dec 16:00</text>
<text x="256.8" y="768" textLength="50" lengthAdjust="spacingAndGlyphs">9 Dec 20:00</text>
<text x="320.8" y="768" textLength="55" lengthAdjust="spacingAndGlyphs">11 Dec 04:00</text>
<text x="384.8" y="768" textLength="55" lengthAdjust="spacingAndGlyphs">12 Dec 12:00</text>
<text x="448.8" y="768" textLength="55" lengthAdjust="spacingAndGlyphs">13 Dec 20:00</text>
<text x="512.8" y="768" textLength="55" lengthAdjust="spacingAndGlyphs">17 Dec 00:00</text>
<text x="576.8" y="768" textLength="55" lengthAdjust="spacingAndGlyphs">18 Dec 08:00</text>
<text x="640.8" y="768" textLength="55" lengthAdjust="spacingAndGlyphs">19 Dec 16:00</text>
<text x="704.8" y="768" textLength="55" lengthAdjust="spacingAndGlyphs">22 Dec 23:00</text>
<text x="768.8" y="768" textLength="55" lengthAdjust="spacingAndGlyphs">24 Dec 04:00</text>
<text x="832.8" y="768" textLength="55" lengthAdjust="spacingAndGlyphs">26 Dec 12:00</text>
<text x="896.8" y="768" textLength="55" lengthAdjust="spacingAndGlyphs">27 Dec 20:00</text>
<text x="960.8" y="768" textLength="55" lengthAdjust="spacingAndGlyphs">31 Dec 00:00</text>
<text x="1024.8" y="768" textLength="48" lengthAdjust="spacingAndGlyphs">2 Jan 04:00</text>
<text x="1088.8" y="768" textLength="48" lengthAdjust="spacingAndGlyphs">3 Jan 12:00</text>
<text x="1152.8" y="768" textLength="48" lengthAdjust="spacingAndGlyphs">6 Jan 16:00</text>
<text x="1216.8" y="768" textLength="48" lengthAdjust="spacingAndGlyphs">8 Jan 00:00</text>
<text x="1280.8" y="768" textLength="48" lengthAdjust="spacingAndGlyphs">9 Jan 08:00</text>
<text x="1344.8" y="768" textLength="53" lengthAdjust="spacingAndGlyphs">10 Jan 16:00</text>
<text x="1408.8" y="768" textLength="53" lengthAdjust="spacingAndGlyphs">13 Jan 20:00</text>
<text x="1472.8" y="768" textLength="53" lengthAdjust="spacingAndGlyphs">15 Jan 04:00</text>
<text x="1536.8" y="768" textLength="53" lengthAdjust="spacingAndGlyphs">16 Jan 12:00</text>
<text x="1600.8" y="768" textLength="53" lengthAdjust="spacingAndGlyphs">17 Jan 20:00</text>
</svg>
</body></html>
